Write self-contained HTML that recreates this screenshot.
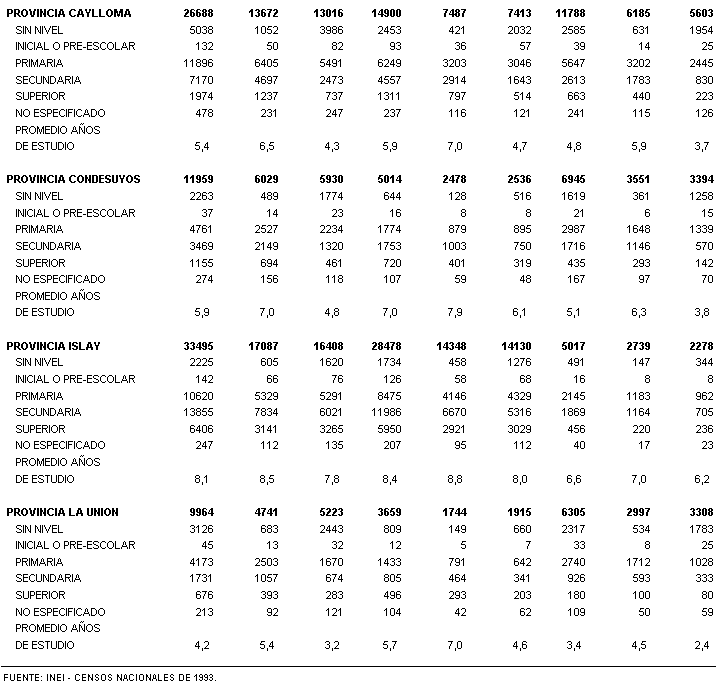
<!DOCTYPE html>
<html lang="es"><head><meta charset="utf-8"><title>Nivel educativo por provincia</title><style>
html,body{margin:0;padding:0;background:#fff;}
body{width:717px;height:684px;position:relative;overflow:hidden;font-family:"Liberation Sans",sans-serif;font-size:11px;color:#000;}
#x{position:absolute;left:0;top:0;width:717px;height:684px;color:transparent;}
#x div{position:absolute;white-space:nowrap;line-height:13px;}
#x .h{font-weight:bold;}
#x .ft{font-size:9px;letter-spacing:0.21px;}
#d{position:absolute;left:0;top:0;width:717px;height:684px;pointer-events:none;}
#d u{position:absolute;display:block;width:1px;height:1px;text-decoration:none;}
#d .n0{box-shadow:2px 1px #000,3px 1px #000,4px 1px #000,1px 2px #000,5px 2px #000,1px 3px #000,5px 3px #000,1px 4px #000,5px 4px #000,1px 5px #000,5px 5px #000,1px 6px #000,5px 6px #000,1px 7px #000,5px 7px #000,2px 8px #000,3px 8px #000,4px 8px #000;}
#d .n1{box-shadow:3px 1px #000,2px 2px #000,3px 2px #000,1px 3px #000,3px 3px #000,3px 4px #000,3px 5px #000,3px 6px #000,3px 7px #000,3px 8px #000;}
#d .n2{box-shadow:2px 1px #000,3px 1px #000,4px 1px #000,1px 2px #000,5px 2px #000,5px 3px #000,5px 4px #000,4px 5px #000,3px 6px #000,2px 7px #000,1px 8px #000,2px 8px #000,3px 8px #000,4px 8px #000,5px 8px #000;}
#d .n3{box-shadow:2px 1px #000,3px 1px #000,4px 1px #000,1px 2px #000,5px 2px #000,5px 3px #000,3px 4px #000,4px 4px #000,5px 5px #000,5px 6px #000,1px 7px #000,5px 7px #000,2px 8px #000,3px 8px #000,4px 8px #000;}
#d .n4{box-shadow:4px 1px #000,3px 2px #000,4px 2px #000,2px 3px #000,4px 3px #000,2px 4px #000,4px 4px #000,1px 5px #000,4px 5px #000,1px 6px #000,2px 6px #000,3px 6px #000,4px 6px #000,5px 6px #000,4px 7px #000,4px 8px #000;}
#d .n5{box-shadow:2px 1px #000,3px 1px #000,4px 1px #000,5px 1px #000,2px 2px #000,1px 3px #000,1px 4px #000,2px 4px #000,3px 4px #000,4px 4px #000,5px 5px #000,5px 6px #000,1px 7px #000,5px 7px #000,2px 8px #000,3px 8px #000,4px 8px #000;}
#d .n6{box-shadow:2px 1px #000,3px 1px #000,4px 1px #000,1px 2px #000,5px 2px #000,1px 3px #000,1px 4px #000,2px 4px #000,3px 4px #000,4px 4px #000,1px 5px #000,5px 5px #000,1px 6px #000,5px 6px #000,1px 7px #000,5px 7px #000,2px 8px #000,3px 8px #000,4px 8px #000;}
#d .n7{box-shadow:1px 1px #000,2px 1px #000,3px 1px #000,4px 1px #000,5px 1px #000,4px 2px #000,4px 3px #000,3px 4px #000,3px 5px #000,2px 6px #000,2px 7px #000,2px 8px #000;}
#d .n8{box-shadow:2px 1px #000,3px 1px #000,4px 1px #000,1px 2px #000,5px 2px #000,1px 3px #000,5px 3px #000,2px 4px #000,3px 4px #000,4px 4px #000,1px 5px #000,5px 5px #000,1px 6px #000,5px 6px #000,1px 7px #000,5px 7px #000,2px 8px #000,3px 8px #000,4px 8px #000;}
#d .n9{box-shadow:2px 1px #000,3px 1px #000,4px 1px #000,1px 2px #000,5px 2px #000,1px 3px #000,5px 3px #000,1px 4px #000,5px 4px #000,2px 5px #000,3px 5px #000,4px 5px #000,5px 5px #000,5px 6px #000,1px 7px #000,5px 7px #000,2px 8px #000,3px 8px #000,4px 8px #000;}
#d .k{box-shadow:2px 8px #000,2px 9px #000,2px 10px #000;}
#d .m0{box-shadow:2px 1px #000,3px 1px #000,4px 1px #000,1px 2px #000,2px 2px #000,4px 2px #000,5px 2px #000,1px 3px #000,2px 3px #000,4px 3px #000,5px 3px #000,1px 4px #000,2px 4px #000,4px 4px #000,5px 4px #000,1px 5px #000,2px 5px #000,4px 5px #000,5px 5px #000,1px 6px #000,2px 6px #000,4px 6px #000,5px 6px #000,1px 7px #000,2px 7px #000,4px 7px #000,5px 7px #000,2px 8px #000,3px 8px #000,4px 8px #000;}
#d .m1{box-shadow:3px 1px #000,4px 1px #000,2px 2px #000,3px 2px #000,4px 2px #000,1px 3px #000,2px 3px #000,3px 3px #000,4px 3px #000,1px 4px #000,3px 4px #000,4px 4px #000,3px 5px #000,4px 5px #000,3px 6px #000,4px 6px #000,3px 7px #000,4px 7px #000,3px 8px #000,4px 8px #000;}
#d .m2{box-shadow:2px 1px #000,3px 1px #000,4px 1px #000,1px 2px #000,2px 2px #000,4px 2px #000,5px 2px #000,4px 3px #000,5px 3px #000,3px 4px #000,4px 4px #000,5px 4px #000,2px 5px #000,3px 5px #000,4px 5px #000,2px 6px #000,3px 6px #000,1px 7px #000,2px 7px #000,1px 8px #000,2px 8px #000,3px 8px #000,4px 8px #000,5px 8px #000;}
#d .m3{box-shadow:2px 1px #000,3px 1px #000,4px 1px #000,1px 2px #000,2px 2px #000,4px 2px #000,5px 2px #000,4px 3px #000,5px 3px #000,3px 4px #000,4px 4px #000,4px 5px #000,5px 5px #000,4px 6px #000,5px 6px #000,1px 7px #000,2px 7px #000,4px 7px #000,5px 7px #000,2px 8px #000,3px 8px #000,4px 8px #000;}
#d .m4{box-shadow:4px 1px #000,5px 1px #000,3px 2px #000,4px 2px #000,5px 2px #000,2px 3px #000,4px 3px #000,5px 3px #000,2px 4px #000,4px 4px #000,5px 4px #000,1px 5px #000,4px 5px #000,5px 5px #000,1px 6px #000,2px 6px #000,3px 6px #000,4px 6px #000,5px 6px #000,6px 6px #000,4px 7px #000,5px 7px #000,4px 8px #000,5px 8px #000;}
#d .m5{box-shadow:2px 1px #000,3px 1px #000,4px 1px #000,5px 1px #000,2px 2px #000,3px 2px #000,1px 3px #000,2px 3px #000,1px 4px #000,2px 4px #000,3px 4px #000,4px 4px #000,1px 5px #000,4px 5px #000,5px 5px #000,4px 6px #000,5px 6px #000,1px 7px #000,2px 7px #000,4px 7px #000,5px 7px #000,2px 8px #000,3px 8px #000,4px 8px #000;}
#d .m6{box-shadow:2px 1px #000,3px 1px #000,4px 1px #000,1px 2px #000,2px 2px #000,5px 2px #000,1px 3px #000,2px 3px #000,1px 4px #000,2px 4px #000,3px 4px #000,4px 4px #000,1px 5px #000,2px 5px #000,4px 5px #000,5px 5px #000,1px 6px #000,2px 6px #000,4px 6px #000,5px 6px #000,1px 7px #000,2px 7px #000,4px 7px #000,5px 7px #000,2px 8px #000,3px 8px #000,4px 8px #000;}
#d .m7{box-shadow:1px 1px #000,2px 1px #000,3px 1px #000,4px 1px #000,5px 1px #000,4px 2px #000,5px 2px #000,3px 3px #000,4px 3px #000,3px 4px #000,4px 4px #000,2px 5px #000,3px 5px #000,2px 6px #000,3px 6px #000,2px 7px #000,3px 7px #000,2px 8px #000,3px 8px #000;}
#d .m8{box-shadow:2px 1px #000,3px 1px #000,4px 1px #000,1px 2px #000,2px 2px #000,4px 2px #000,5px 2px #000,1px 3px #000,2px 3px #000,4px 3px #000,5px 3px #000,2px 4px #000,3px 4px #000,4px 4px #000,1px 5px #000,2px 5px #000,4px 5px #000,5px 5px #000,1px 6px #000,2px 6px #000,4px 6px #000,5px 6px #000,1px 7px #000,2px 7px #000,4px 7px #000,5px 7px #000,2px 8px #000,3px 8px #000,4px 8px #000;}
#d .m9{box-shadow:2px 1px #000,3px 1px #000,4px 1px #000,1px 2px #000,2px 2px #000,4px 2px #000,5px 2px #000,1px 3px #000,2px 3px #000,4px 3px #000,5px 3px #000,1px 4px #000,2px 4px #000,4px 4px #000,5px 4px #000,2px 5px #000,3px 5px #000,4px 5px #000,5px 5px #000,4px 6px #000,5px 6px #000,1px 7px #000,2px 7px #000,4px 7px #000,5px 7px #000,2px 8px #000,3px 8px #000,4px 8px #000;}
#d .q0{box-shadow:2px 1px #000,3px 1px #000,4px 1px #000,5px 1px #000,1px 2px #000,6px 2px #000,1px 3px #000,2px 4px #000,3px 4px #000,4px 5px #000,5px 5px #000,6px 6px #000,1px 7px #000,6px 7px #000,2px 8px #000,3px 8px #000,4px 8px #000,5px 8px #000;}
#d .q1{box-shadow:1px 1px #000,1px 2px #000,1px 3px #000,1px 4px #000,1px 5px #000,1px 6px #000,1px 7px #000,1px 8px #000;}
#d .q2{box-shadow:1px 1px #000,6px 1px #000,1px 2px #000,2px 2px #000,6px 2px #000,1px 3px #000,3px 3px #000,6px 3px #000,1px 4px #000,3px 4px #000,6px 4px #000,1px 5px #000,4px 5px #000,6px 5px #000,1px 6px #000,4px 6px #000,6px 6px #000,1px 7px #000,5px 7px #000,6px 7px #000,1px 8px #000,6px 8px #000;}
#d .q3{box-shadow:1px 1px #000,7px 1px #000,1px 2px #000,7px 2px #000,2px 3px #000,6px 3px #000,2px 4px #000,6px 4px #000,3px 5px #000,5px 5px #000,3px 6px #000,5px 6px #000,4px 7px #000,4px 8px #000;}
#d .q4{box-shadow:1px 1px #000,2px 1px #000,3px 1px #000,4px 1px #000,5px 1px #000,1px 2px #000,1px 3px #000,1px 4px #000,2px 4px #000,3px 4px #000,4px 4px #000,5px 4px #000,1px 5px #000,1px 6px #000,1px 7px #000,1px 8px #000,2px 8px #000,3px 8px #000,4px 8px #000,5px 8px #000;}
#d .q5{box-shadow:1px 1px #000,1px 2px #000,1px 3px #000,1px 4px #000,1px 5px #000,1px 6px #000,1px 7px #000,1px 8px #000,2px 8px #000,3px 8px #000,4px 8px #000,5px 8px #000;}
#d .q6{box-shadow:3px 1px #000,4px 1px #000,5px 1px #000,2px 2px #000,6px 2px #000,1px 3px #000,1px 4px #000,1px 5px #000,1px 6px #000,2px 7px #000,6px 7px #000,3px 8px #000,4px 8px #000,5px 8px #000;}
#d .q7{box-shadow:4px 1px #000,3px 2px #000,5px 2px #000,3px 3px #000,5px 3px #000,3px 4px #000,5px 4px #000,2px 5px #000,6px 5px #000,2px 6px #000,3px 6px #000,4px 6px #000,5px 6px #000,6px 6px #000,1px 7px #000,7px 7px #000,1px 8px #000,7px 8px #000;}
#d .q8{box-shadow:3px 1px #000,4px 1px #000,5px 1px #000,2px 2px #000,6px 2px #000,1px 3px #000,7px 3px #000,1px 4px #000,7px 4px #000,1px 5px #000,7px 5px #000,1px 6px #000,7px 6px #000,2px 7px #000,6px 7px #000,3px 8px #000,4px 8px #000,5px 8px #000;}
#d .q9{box-shadow:1px 1px #000,2px 1px #000,3px 1px #000,4px 1px #000,1px 2px #000,5px 2px #000,1px 3px #000,5px 3px #000,1px 4px #000,5px 4px #000,1px 5px #000,2px 5px #000,3px 5px #000,4px 5px #000,1px 6px #000,1px 7px #000,1px 8px #000;}
#d .q10{box-shadow:1px 1px #000,2px 1px #000,3px 1px #000,4px 1px #000,5px 1px #000,1px 2px #000,6px 2px #000,1px 3px #000,6px 3px #000,1px 4px #000,2px 4px #000,3px 4px #000,4px 4px #000,5px 4px #000,1px 5px #000,4px 5px #000,1px 6px #000,5px 6px #000,1px 7px #000,5px 7px #000,1px 8px #000,6px 8px #000;}
#d .q11{box-shadow:1px 6px #000,2px 6px #000,3px 6px #000;}
#d .q12{box-shadow:1px 1px #000,7px 1px #000,1px 2px #000,2px 2px #000,6px 2px #000,7px 2px #000,1px 3px #000,2px 3px #000,6px 3px #000,7px 3px #000,1px 4px #000,3px 4px #000,5px 4px #000,7px 4px #000,1px 5px #000,3px 5px #000,5px 5px #000,7px 5px #000,1px 6px #000,3px 6px #000,5px 6px #000,7px 6px #000,1px 7px #000,4px 7px #000,7px 7px #000,1px 8px #000,4px 8px #000,7px 8px #000;}
#d .q13{box-shadow:1px 1px #000,2px 1px #000,3px 1px #000,4px 1px #000,1px 2px #000,5px 2px #000,1px 3px #000,6px 3px #000,1px 4px #000,6px 4px #000,1px 5px #000,6px 5px #000,1px 6px #000,6px 6px #000,1px 7px #000,5px 7px #000,1px 8px #000,2px 8px #000,3px 8px #000,4px 8px #000;}
#d .q14{box-shadow:1px 1px #000,2px 1px #000,3px 1px #000,4px 1px #000,5px 1px #000,3px 2px #000,3px 3px #000,3px 4px #000,3px 5px #000,3px 6px #000,3px 7px #000,3px 8px #000;}
#d .q15{box-shadow:1px 1px #000,6px 1px #000,1px 2px #000,6px 2px #000,1px 3px #000,6px 3px #000,1px 4px #000,6px 4px #000,1px 5px #000,6px 5px #000,1px 6px #000,6px 6px #000,1px 7px #000,6px 7px #000,2px 8px #000,3px 8px #000,4px 8px #000,5px 8px #000;}
#d .q16{box-shadow:1px 1px #000,2px 1px #000,3px 1px #000,4px 1px #000,5px 1px #000,1px 2px #000,1px 3px #000,1px 4px #000,2px 4px #000,3px 4px #000,4px 4px #000,1px 5px #000,1px 6px #000,1px 7px #000,1px 8px #000;}
#d .q17{box-shadow:3px 1px #000,5px 1px #000,2px 2px #000,4px 2px #000,1px 4px #000,6px 4px #000,1px 5px #000,2px 5px #000,6px 5px #000,1px 6px #000,3px 6px #000,6px 6px #000,1px 7px #000,3px 7px #000,6px 7px #000,1px 8px #000,4px 8px #000,6px 8px #000,1px 9px #000,4px 9px #000,6px 9px #000,1px 10px #000,5px 10px #000,6px 10px #000,1px 11px #000,6px 11px #000;}
#d .f0{box-shadow:1px 1px #000,2px 1px #000,3px 1px #000,4px 1px #000,1px 2px #000,1px 3px #000,1px 4px #000,2px 4px #000,3px 4px #000,4px 4px #000,1px 5px #000,1px 6px #000,1px 7px #000;}
#d .f1{box-shadow:1px 1px #000,5px 1px #000,1px 2px #000,5px 2px #000,1px 3px #000,5px 3px #000,1px 4px #000,5px 4px #000,1px 5px #000,5px 5px #000,1px 6px #000,5px 6px #000,2px 7px #000,3px 7px #000,4px 7px #000;}
#d .f2{box-shadow:1px 1px #000,2px 1px #000,3px 1px #000,4px 1px #000,1px 2px #000,1px 3px #000,1px 4px #000,2px 4px #000,3px 4px #000,4px 4px #000,1px 5px #000,1px 6px #000,1px 7px #000,2px 7px #000,3px 7px #000,4px 7px #000;}
#d .f3{box-shadow:1px 1px #000,5px 1px #000,1px 2px #000,2px 2px #000,5px 2px #000,1px 3px #000,2px 3px #000,5px 3px #000,1px 4px #000,3px 4px #000,5px 4px #000,1px 5px #000,4px 5px #000,5px 5px #000,1px 6px #000,4px 6px #000,5px 6px #000,1px 7px #000,5px 7px #000;}
#d .f4{box-shadow:1px 1px #000,2px 1px #000,3px 1px #000,4px 1px #000,5px 1px #000,3px 2px #000,3px 3px #000,3px 4px #000,3px 5px #000,3px 6px #000,3px 7px #000;}
#d .f5{box-shadow:1px 3px #000,1px 7px #000;}
#d .f6{box-shadow:1px 1px #000,1px 2px #000,1px 3px #000,1px 4px #000,1px 5px #000,1px 6px #000,1px 7px #000;}
#d .f7{box-shadow:1px 5px #000,2px 5px #000;}
#d .f8{box-shadow:2px 1px #000,3px 1px #000,4px 1px #000,1px 2px #000,5px 2px #000,1px 3px #000,1px 4px #000,1px 5px #000,1px 6px #000,5px 6px #000,2px 7px #000,3px 7px #000,4px 7px #000;}
#d .f9{box-shadow:2px 1px #000,3px 1px #000,1px 2px #000,4px 2px #000,1px 3px #000,2px 4px #000,3px 4px #000,4px 5px #000,1px 6px #000,4px 6px #000,2px 7px #000,3px 7px #000;}
#d .f10{box-shadow:2px 1px #000,3px 1px #000,4px 1px #000,1px 2px #000,5px 2px #000,1px 3px #000,5px 3px #000,1px 4px #000,5px 4px #000,1px 5px #000,5px 5px #000,1px 6px #000,5px 6px #000,2px 7px #000,3px 7px #000,4px 7px #000;}
#d .f11{box-shadow:3px 1px #000,2px 2px #000,4px 2px #000,2px 3px #000,4px 3px #000,2px 4px #000,4px 4px #000,2px 5px #000,3px 5px #000,4px 5px #000,1px 6px #000,5px 6px #000,1px 7px #000,5px 7px #000;}
#d .f12{box-shadow:1px 1px #000,1px 2px #000,1px 3px #000,1px 4px #000,1px 5px #000,1px 6px #000,1px 7px #000,2px 7px #000,3px 7px #000,4px 7px #000;}
#d .f13{box-shadow:1px 1px #000,2px 1px #000,3px 1px #000,4px 1px #000,1px 2px #000,5px 2px #000,1px 3px #000,5px 3px #000,1px 4px #000,5px 4px #000,1px 5px #000,5px 5px #000,1px 6px #000,5px 6px #000,1px 7px #000,2px 7px #000,3px 7px #000,4px 7px #000;}
#d .f14{box-shadow:3px 1px #000,2px 2px #000,3px 2px #000,1px 3px #000,3px 3px #000,3px 4px #000,3px 5px #000,3px 6px #000,3px 7px #000;}
#d .f15{box-shadow:2px 1px #000,3px 1px #000,1px 2px #000,4px 2px #000,1px 3px #000,4px 3px #000,2px 4px #000,3px 4px #000,4px 4px #000,4px 5px #000,1px 6px #000,4px 6px #000,2px 7px #000,3px 7px #000;}
#d .f16{box-shadow:2px 1px #000,3px 1px #000,1px 2px #000,4px 2px #000,4px 3px #000,2px 4px #000,3px 4px #000,4px 5px #000,1px 6px #000,4px 6px #000,2px 7px #000,3px 7px #000;}
#d .f17{box-shadow:1px 7px #000;}
#d .tP{box-shadow:1px 1px #000,2px 1px #000,3px 1px #000,4px 1px #000,5px 1px #000,1px 2px #000,2px 2px #000,5px 2px #000,6px 2px #000,1px 3px #000,2px 3px #000,5px 3px #000,6px 3px #000,1px 4px #000,2px 4px #000,5px 4px #000,6px 4px #000,1px 5px #000,2px 5px #000,3px 5px #000,4px 5px #000,5px 5px #000,1px 6px #000,2px 6px #000,1px 7px #000,2px 7px #000,1px 8px #000,2px 8px #000;}
#d .tR{box-shadow:1px 1px #000,2px 1px #000,3px 1px #000,4px 1px #000,5px 1px #000,1px 2px #000,2px 2px #000,5px 2px #000,6px 2px #000,1px 3px #000,2px 3px #000,5px 3px #000,6px 3px #000,1px 4px #000,2px 4px #000,5px 4px #000,6px 4px #000,1px 5px #000,2px 5px #000,3px 5px #000,4px 5px #000,5px 5px #000,1px 6px #000,2px 6px #000,4px 6px #000,5px 6px #000,1px 7px #000,2px 7px #000,5px 7px #000,6px 7px #000,1px 8px #000,2px 8px #000,6px 8px #000,7px 8px #000;}
#d .tO{box-shadow:3px 1px #000,4px 1px #000,5px 1px #000,2px 2px #000,3px 2px #000,5px 2px #000,6px 2px #000,1px 3px #000,2px 3px #000,6px 3px #000,7px 3px #000,1px 4px #000,2px 4px #000,6px 4px #000,7px 4px #000,1px 5px #000,2px 5px #000,6px 5px #000,7px 5px #000,1px 6px #000,2px 6px #000,6px 6px #000,7px 6px #000,2px 7px #000,3px 7px #000,5px 7px #000,6px 7px #000,3px 8px #000,4px 8px #000,5px 8px #000;}
#d .tV{box-shadow:1px 1px #000,2px 1px #000,6px 1px #000,7px 1px #000,1px 2px #000,2px 2px #000,6px 2px #000,7px 2px #000,2px 3px #000,3px 3px #000,5px 3px #000,6px 3px #000,2px 4px #000,3px 4px #000,5px 4px #000,6px 4px #000,2px 5px #000,3px 5px #000,5px 5px #000,6px 5px #000,2px 6px #000,3px 6px #000,5px 6px #000,6px 6px #000,3px 7px #000,4px 7px #000,5px 7px #000,3px 8px #000,4px 8px #000,5px 8px #000;}
#d .tI{box-shadow:1px 1px #000,2px 1px #000,1px 2px #000,2px 2px #000,1px 3px #000,2px 3px #000,1px 4px #000,2px 4px #000,1px 5px #000,2px 5px #000,1px 6px #000,2px 6px #000,1px 7px #000,2px 7px #000,1px 8px #000,2px 8px #000;}
#d .tN{box-shadow:1px 1px #000,2px 1px #000,5px 1px #000,6px 1px #000,1px 2px #000,2px 2px #000,5px 2px #000,6px 2px #000,1px 3px #000,2px 3px #000,3px 3px #000,5px 3px #000,6px 3px #000,1px 4px #000,2px 4px #000,3px 4px #000,5px 4px #000,6px 4px #000,1px 5px #000,2px 5px #000,4px 5px #000,5px 5px #000,6px 5px #000,1px 6px #000,2px 6px #000,4px 6px #000,5px 6px #000,6px 6px #000,1px 7px #000,2px 7px #000,5px 7px #000,6px 7px #000,1px 8px #000,2px 8px #000,5px 8px #000,6px 8px #000;}
#d .tC{box-shadow:3px 1px #000,4px 1px #000,5px 1px #000,6px 1px #000,2px 2px #000,3px 2px #000,6px 2px #000,7px 2px #000,1px 3px #000,2px 3px #000,1px 4px #000,2px 4px #000,1px 5px #000,2px 5px #000,1px 6px #000,2px 6px #000,2px 7px #000,3px 7px #000,6px 7px #000,7px 7px #000,3px 8px #000,4px 8px #000,5px 8px #000,6px 8px #000;}
#d .tA{box-shadow:3px 1px #000,4px 1px #000,5px 1px #000,3px 2px #000,4px 2px #000,5px 2px #000,2px 3px #000,3px 3px #000,5px 3px #000,6px 3px #000,2px 4px #000,3px 4px #000,5px 4px #000,6px 4px #000,2px 5px #000,3px 5px #000,5px 5px #000,6px 5px #000,1px 6px #000,2px 6px #000,3px 6px #000,4px 6px #000,5px 6px #000,6px 6px #000,7px 6px #000,1px 7px #000,2px 7px #000,6px 7px #000,7px 7px #000,1px 8px #000,2px 8px #000,6px 8px #000,7px 8px #000;}
#d .tY{box-shadow:1px 1px #000,2px 1px #000,5px 1px #000,6px 1px #000,1px 2px #000,2px 2px #000,5px 2px #000,6px 2px #000,2px 3px #000,5px 3px #000,2px 4px #000,3px 4px #000,4px 4px #000,5px 4px #000,3px 5px #000,4px 5px #000,3px 6px #000,4px 6px #000,3px 7px #000,4px 7px #000,3px 8px #000,4px 8px #000;}
#d .tL{box-shadow:1px 1px #000,2px 1px #000,1px 2px #000,2px 2px #000,1px 3px #000,2px 3px #000,1px 4px #000,2px 4px #000,1px 5px #000,2px 5px #000,1px 6px #000,2px 6px #000,1px 7px #000,2px 7px #000,1px 8px #000,2px 8px #000,3px 8px #000,4px 8px #000,5px 8px #000,6px 8px #000;}
#d .tM{box-shadow:1px 1px #000,2px 1px #000,3px 1px #000,7px 1px #000,8px 1px #000,9px 1px #000,1px 2px #000,2px 2px #000,3px 2px #000,7px 2px #000,8px 2px #000,9px 2px #000,1px 3px #000,2px 3px #000,3px 3px #000,4px 3px #000,6px 3px #000,7px 3px #000,8px 3px #000,9px 3px #000,1px 4px #000,2px 4px #000,3px 4px #000,4px 4px #000,6px 4px #000,7px 4px #000,8px 4px #000,9px 4px #000,1px 5px #000,2px 5px #000,4px 5px #000,6px 5px #000,8px 5px #000,9px 5px #000,1px 6px #000,2px 6px #000,4px 6px #000,5px 6px #000,6px 6px #000,8px 6px #000,9px 6px #000,1px 7px #000,2px 7px #000,4px 7px #000,5px 7px #000,6px 7px #000,8px 7px #000,9px 7px #000,1px 8px #000,2px 8px #000,5px 8px #000,8px 8px #000,9px 8px #000;}
#d .tD{box-shadow:1px 1px #000,2px 1px #000,3px 1px #000,4px 1px #000,5px 1px #000,1px 2px #000,2px 2px #000,5px 2px #000,6px 2px #000,1px 3px #000,2px 3px #000,5px 3px #000,6px 3px #000,1px 4px #000,2px 4px #000,5px 4px #000,6px 4px #000,1px 5px #000,2px 5px #000,5px 5px #000,6px 5px #000,1px 6px #000,2px 6px #000,5px 6px #000,6px 6px #000,1px 7px #000,2px 7px #000,5px 7px #000,6px 7px #000,1px 8px #000,2px 8px #000,3px 8px #000,4px 8px #000,5px 8px #000;}
#d .tE{box-shadow:1px 1px #000,2px 1px #000,3px 1px #000,4px 1px #000,5px 1px #000,1px 2px #000,2px 2px #000,1px 3px #000,2px 3px #000,1px 4px #000,2px 4px #000,3px 4px #000,4px 4px #000,5px 4px #000,1px 5px #000,2px 5px #000,1px 6px #000,2px 6px #000,1px 7px #000,2px 7px #000,1px 8px #000,2px 8px #000,3px 8px #000,4px 8px #000,5px 8px #000;}
#d .tS{box-shadow:2px 1px #000,3px 1px #000,4px 1px #000,5px 1px #000,1px 2px #000,2px 2px #000,5px 2px #000,6px 2px #000,1px 3px #000,2px 3px #000,1px 4px #000,2px 4px #000,3px 4px #000,4px 4px #000,3px 5px #000,4px 5px #000,5px 5px #000,6px 5px #000,5px 6px #000,6px 6px #000,1px 7px #000,2px 7px #000,5px 7px #000,6px 7px #000,2px 8px #000,3px 8px #000,4px 8px #000,5px 8px #000;}
#d .tU{box-shadow:1px 1px #000,2px 1px #000,5px 1px #000,6px 1px #000,1px 2px #000,2px 2px #000,5px 2px #000,6px 2px #000,1px 3px #000,2px 3px #000,5px 3px #000,6px 3px #000,1px 4px #000,2px 4px #000,5px 4px #000,6px 4px #000,1px 5px #000,2px 5px #000,5px 5px #000,6px 5px #000,1px 6px #000,2px 6px #000,5px 6px #000,6px 6px #000,1px 7px #000,2px 7px #000,5px 7px #000,6px 7px #000,2px 8px #000,3px 8px #000,4px 8px #000,5px 8px #000;}
.line{position:absolute;left:1px;width:715px;top:666px;height:1px;background:#000;}
</style></head><body>
<div id="x">
<div class="h" style="top:7px;left:6px">PROVINCIA CAYLLOMA</div>
<div class="h" style="top:7px;right:503px">26688</div>
<div class="h" style="top:7px;right:438px">13672</div>
<div class="h" style="top:7px;right:373px">13016</div>
<div class="h" style="top:7px;right:315px">14900</div>
<div class="h" style="top:7px;right:250px">7487</div>
<div class="h" style="top:7px;right:185px">7413</div>
<div class="h" style="top:7px;right:131px">11788</div>
<div class="h" style="top:7px;right:66px">6185</div>
<div class="h" style="top:7px;right:3px">5603</div>
<div style="top:24px;left:15px">SIN NIVEL</div>
<div style="top:24px;right:503px">5038</div>
<div style="top:24px;right:438px">1052</div>
<div style="top:24px;right:373px">3986</div>
<div style="top:24px;right:315px">2453</div>
<div style="top:24px;right:250px">421</div>
<div style="top:24px;right:185px">2032</div>
<div style="top:24px;right:131px">2585</div>
<div style="top:24px;right:66px">631</div>
<div style="top:24px;right:3px">1954</div>
<div style="top:40px;left:15px">INICIAL O PRE-ESCOLAR</div>
<div style="top:40px;right:503px">132</div>
<div style="top:40px;right:438px">50</div>
<div style="top:40px;right:373px">82</div>
<div style="top:40px;right:315px">93</div>
<div style="top:40px;right:250px">36</div>
<div style="top:40px;right:185px">57</div>
<div style="top:40px;right:131px">39</div>
<div style="top:40px;right:66px">14</div>
<div style="top:40px;right:3px">25</div>
<div style="top:57px;left:15px">PRIMARIA</div>
<div style="top:57px;right:503px">11896</div>
<div style="top:57px;right:438px">6405</div>
<div style="top:57px;right:373px">5491</div>
<div style="top:57px;right:315px">6249</div>
<div style="top:57px;right:250px">3203</div>
<div style="top:57px;right:185px">3046</div>
<div style="top:57px;right:131px">5647</div>
<div style="top:57px;right:66px">3202</div>
<div style="top:57px;right:3px">2445</div>
<div style="top:74px;left:15px">SECUNDARIA</div>
<div style="top:74px;right:503px">7170</div>
<div style="top:74px;right:438px">4697</div>
<div style="top:74px;right:373px">2473</div>
<div style="top:74px;right:315px">4557</div>
<div style="top:74px;right:250px">2914</div>
<div style="top:74px;right:185px">1643</div>
<div style="top:74px;right:131px">2613</div>
<div style="top:74px;right:66px">1783</div>
<div style="top:74px;right:3px">830</div>
<div style="top:90px;left:15px">SUPERIOR</div>
<div style="top:90px;right:503px">1974</div>
<div style="top:90px;right:438px">1237</div>
<div style="top:90px;right:373px">737</div>
<div style="top:90px;right:315px">1311</div>
<div style="top:90px;right:250px">797</div>
<div style="top:90px;right:185px">514</div>
<div style="top:90px;right:131px">663</div>
<div style="top:90px;right:66px">440</div>
<div style="top:90px;right:3px">223</div>
<div style="top:107px;left:15px">NO ESPECIFICADO</div>
<div style="top:107px;right:503px">478</div>
<div style="top:107px;right:438px">231</div>
<div style="top:107px;right:373px">247</div>
<div style="top:107px;right:315px">237</div>
<div style="top:107px;right:250px">116</div>
<div style="top:107px;right:185px">121</div>
<div style="top:107px;right:131px">241</div>
<div style="top:107px;right:66px">115</div>
<div style="top:107px;right:3px">126</div>
<div style="top:124px;left:15px">PROMEDIO AÑOS</div>
<div style="top:140px;left:15px">DE ESTUDIO</div>
<div style="top:140px;right:507px">5,4</div>
<div style="top:140px;right:442px">6,5</div>
<div style="top:140px;right:377px">4,3</div>
<div style="top:140px;right:319px">5,9</div>
<div style="top:140px;right:254px">7,0</div>
<div style="top:140px;right:189px">4,7</div>
<div style="top:140px;right:135px">4,8</div>
<div style="top:140px;right:70px">5,9</div>
<div style="top:140px;right:7px">3,7</div>
<div class="h" style="top:173px;left:6px">PROVINCIA CONDESUYOS</div>
<div class="h" style="top:173px;right:503px">11959</div>
<div class="h" style="top:173px;right:438px">6029</div>
<div class="h" style="top:173px;right:373px">5930</div>
<div class="h" style="top:173px;right:315px">5014</div>
<div class="h" style="top:173px;right:250px">2478</div>
<div class="h" style="top:173px;right:185px">2536</div>
<div class="h" style="top:173px;right:131px">6945</div>
<div class="h" style="top:173px;right:66px">3551</div>
<div class="h" style="top:173px;right:3px">3394</div>
<div style="top:190px;left:15px">SIN NIVEL</div>
<div style="top:190px;right:503px">2263</div>
<div style="top:190px;right:438px">489</div>
<div style="top:190px;right:373px">1774</div>
<div style="top:190px;right:315px">644</div>
<div style="top:190px;right:250px">128</div>
<div style="top:190px;right:185px">516</div>
<div style="top:190px;right:131px">1619</div>
<div style="top:190px;right:66px">361</div>
<div style="top:190px;right:3px">1258</div>
<div style="top:207px;left:15px">INICIAL O PRE-ESCOLAR</div>
<div style="top:207px;right:503px">37</div>
<div style="top:207px;right:438px">14</div>
<div style="top:207px;right:373px">23</div>
<div style="top:207px;right:315px">16</div>
<div style="top:207px;right:250px">8</div>
<div style="top:207px;right:185px">8</div>
<div style="top:207px;right:131px">21</div>
<div style="top:207px;right:66px">6</div>
<div style="top:207px;right:3px">15</div>
<div style="top:223px;left:15px">PRIMARIA</div>
<div style="top:223px;right:503px">4761</div>
<div style="top:223px;right:438px">2527</div>
<div style="top:223px;right:373px">2234</div>
<div style="top:223px;right:315px">1774</div>
<div style="top:223px;right:250px">879</div>
<div style="top:223px;right:185px">895</div>
<div style="top:223px;right:131px">2987</div>
<div style="top:223px;right:66px">1648</div>
<div style="top:223px;right:3px">1339</div>
<div style="top:240px;left:15px">SECUNDARIA</div>
<div style="top:240px;right:503px">3469</div>
<div style="top:240px;right:438px">2149</div>
<div style="top:240px;right:373px">1320</div>
<div style="top:240px;right:315px">1753</div>
<div style="top:240px;right:250px">1003</div>
<div style="top:240px;right:185px">750</div>
<div style="top:240px;right:131px">1716</div>
<div style="top:240px;right:66px">1146</div>
<div style="top:240px;right:3px">570</div>
<div style="top:257px;left:15px">SUPERIOR</div>
<div style="top:257px;right:503px">1155</div>
<div style="top:257px;right:438px">694</div>
<div style="top:257px;right:373px">461</div>
<div style="top:257px;right:315px">720</div>
<div style="top:257px;right:250px">401</div>
<div style="top:257px;right:185px">319</div>
<div style="top:257px;right:131px">435</div>
<div style="top:257px;right:66px">293</div>
<div style="top:257px;right:3px">142</div>
<div style="top:273px;left:15px">NO ESPECIFICADO</div>
<div style="top:273px;right:503px">274</div>
<div style="top:273px;right:438px">156</div>
<div style="top:273px;right:373px">118</div>
<div style="top:273px;right:315px">107</div>
<div style="top:273px;right:250px">59</div>
<div style="top:273px;right:185px">48</div>
<div style="top:273px;right:131px">167</div>
<div style="top:273px;right:66px">97</div>
<div style="top:273px;right:3px">70</div>
<div style="top:290px;left:15px">PROMEDIO AÑOS</div>
<div style="top:306px;left:15px">DE ESTUDIO</div>
<div style="top:306px;right:507px">5,9</div>
<div style="top:306px;right:442px">7,0</div>
<div style="top:306px;right:377px">4,8</div>
<div style="top:306px;right:319px">7,0</div>
<div style="top:306px;right:254px">7,9</div>
<div style="top:306px;right:189px">6,1</div>
<div style="top:306px;right:135px">5,1</div>
<div style="top:306px;right:70px">6,3</div>
<div style="top:306px;right:7px">3,8</div>
<div class="h" style="top:340px;left:6px">PROVINCIA ISLAY</div>
<div class="h" style="top:340px;right:503px">33495</div>
<div class="h" style="top:340px;right:438px">17087</div>
<div class="h" style="top:340px;right:373px">16408</div>
<div class="h" style="top:340px;right:315px">28478</div>
<div class="h" style="top:340px;right:250px">14348</div>
<div class="h" style="top:340px;right:185px">14130</div>
<div class="h" style="top:340px;right:131px">5017</div>
<div class="h" style="top:340px;right:66px">2739</div>
<div class="h" style="top:340px;right:3px">2278</div>
<div style="top:356px;left:15px">SIN NIVEL</div>
<div style="top:356px;right:503px">2225</div>
<div style="top:356px;right:438px">605</div>
<div style="top:356px;right:373px">1620</div>
<div style="top:356px;right:315px">1734</div>
<div style="top:356px;right:250px">458</div>
<div style="top:356px;right:185px">1276</div>
<div style="top:356px;right:131px">491</div>
<div style="top:356px;right:66px">147</div>
<div style="top:356px;right:3px">344</div>
<div style="top:373px;left:15px">INICIAL O PRE-ESCOLAR</div>
<div style="top:373px;right:503px">142</div>
<div style="top:373px;right:438px">66</div>
<div style="top:373px;right:373px">76</div>
<div style="top:373px;right:315px">126</div>
<div style="top:373px;right:250px">58</div>
<div style="top:373px;right:185px">68</div>
<div style="top:373px;right:131px">16</div>
<div style="top:373px;right:66px">8</div>
<div style="top:373px;right:3px">8</div>
<div style="top:390px;left:15px">PRIMARIA</div>
<div style="top:390px;right:503px">10620</div>
<div style="top:390px;right:438px">5329</div>
<div style="top:390px;right:373px">5291</div>
<div style="top:390px;right:315px">8475</div>
<div style="top:390px;right:250px">4146</div>
<div style="top:390px;right:185px">4329</div>
<div style="top:390px;right:131px">2145</div>
<div style="top:390px;right:66px">1183</div>
<div style="top:390px;right:3px">962</div>
<div style="top:406px;left:15px">SECUNDARIA</div>
<div style="top:406px;right:503px">13855</div>
<div style="top:406px;right:438px">7834</div>
<div style="top:406px;right:373px">6021</div>
<div style="top:406px;right:315px">11986</div>
<div style="top:406px;right:250px">6670</div>
<div style="top:406px;right:185px">5316</div>
<div style="top:406px;right:131px">1869</div>
<div style="top:406px;right:66px">1164</div>
<div style="top:406px;right:3px">705</div>
<div style="top:423px;left:15px">SUPERIOR</div>
<div style="top:423px;right:503px">6406</div>
<div style="top:423px;right:438px">3141</div>
<div style="top:423px;right:373px">3265</div>
<div style="top:423px;right:315px">5950</div>
<div style="top:423px;right:250px">2921</div>
<div style="top:423px;right:185px">3029</div>
<div style="top:423px;right:131px">456</div>
<div style="top:423px;right:66px">220</div>
<div style="top:423px;right:3px">236</div>
<div style="top:439px;left:15px">NO ESPECIFICADO</div>
<div style="top:439px;right:503px">247</div>
<div style="top:439px;right:438px">112</div>
<div style="top:439px;right:373px">135</div>
<div style="top:439px;right:315px">207</div>
<div style="top:439px;right:250px">95</div>
<div style="top:439px;right:185px">112</div>
<div style="top:439px;right:131px">40</div>
<div style="top:439px;right:66px">17</div>
<div style="top:439px;right:3px">23</div>
<div style="top:456px;left:15px">PROMEDIO AÑOS</div>
<div style="top:473px;left:15px">DE ESTUDIO</div>
<div style="top:473px;right:507px">8,1</div>
<div style="top:473px;right:442px">8,5</div>
<div style="top:473px;right:377px">7,8</div>
<div style="top:473px;right:319px">8,4</div>
<div style="top:473px;right:254px">8,8</div>
<div style="top:473px;right:189px">8,0</div>
<div style="top:473px;right:135px">6,6</div>
<div style="top:473px;right:70px">7,0</div>
<div style="top:473px;right:7px">6,2</div>
<div class="h" style="top:506px;left:6px">PROVINCIA LA UNION</div>
<div class="h" style="top:506px;right:503px">9964</div>
<div class="h" style="top:506px;right:438px">4741</div>
<div class="h" style="top:506px;right:373px">5223</div>
<div class="h" style="top:506px;right:315px">3659</div>
<div class="h" style="top:506px;right:250px">1744</div>
<div class="h" style="top:506px;right:185px">1915</div>
<div class="h" style="top:506px;right:131px">6305</div>
<div class="h" style="top:506px;right:66px">2997</div>
<div class="h" style="top:506px;right:3px">3308</div>
<div style="top:523px;left:15px">SIN NIVEL</div>
<div style="top:523px;right:503px">3126</div>
<div style="top:523px;right:438px">683</div>
<div style="top:523px;right:373px">2443</div>
<div style="top:523px;right:315px">809</div>
<div style="top:523px;right:250px">149</div>
<div style="top:523px;right:185px">660</div>
<div style="top:523px;right:131px">2317</div>
<div style="top:523px;right:66px">534</div>
<div style="top:523px;right:3px">1783</div>
<div style="top:539px;left:15px">INICIAL O PRE-ESCOLAR</div>
<div style="top:539px;right:503px">45</div>
<div style="top:539px;right:438px">13</div>
<div style="top:539px;right:373px">32</div>
<div style="top:539px;right:315px">12</div>
<div style="top:539px;right:250px">5</div>
<div style="top:539px;right:185px">7</div>
<div style="top:539px;right:131px">33</div>
<div style="top:539px;right:66px">8</div>
<div style="top:539px;right:3px">25</div>
<div style="top:556px;left:15px">PRIMARIA</div>
<div style="top:556px;right:503px">4173</div>
<div style="top:556px;right:438px">2503</div>
<div style="top:556px;right:373px">1670</div>
<div style="top:556px;right:315px">1433</div>
<div style="top:556px;right:250px">791</div>
<div style="top:556px;right:185px">642</div>
<div style="top:556px;right:131px">2740</div>
<div style="top:556px;right:66px">1712</div>
<div style="top:556px;right:3px">1028</div>
<div style="top:572px;left:15px">SECUNDARIA</div>
<div style="top:572px;right:503px">1731</div>
<div style="top:572px;right:438px">1057</div>
<div style="top:572px;right:373px">674</div>
<div style="top:572px;right:315px">805</div>
<div style="top:572px;right:250px">464</div>
<div style="top:572px;right:185px">341</div>
<div style="top:572px;right:131px">926</div>
<div style="top:572px;right:66px">593</div>
<div style="top:572px;right:3px">333</div>
<div style="top:589px;left:15px">SUPERIOR</div>
<div style="top:589px;right:503px">676</div>
<div style="top:589px;right:438px">393</div>
<div style="top:589px;right:373px">283</div>
<div style="top:589px;right:315px">496</div>
<div style="top:589px;right:250px">293</div>
<div style="top:589px;right:185px">203</div>
<div style="top:589px;right:131px">180</div>
<div style="top:589px;right:66px">100</div>
<div style="top:589px;right:3px">80</div>
<div style="top:606px;left:15px">NO ESPECIFICADO</div>
<div style="top:606px;right:503px">213</div>
<div style="top:606px;right:438px">92</div>
<div style="top:606px;right:373px">121</div>
<div style="top:606px;right:315px">104</div>
<div style="top:606px;right:250px">42</div>
<div style="top:606px;right:185px">62</div>
<div style="top:606px;right:131px">109</div>
<div style="top:606px;right:66px">50</div>
<div style="top:606px;right:3px">59</div>
<div style="top:622px;left:15px">PROMEDIO AÑOS</div>
<div style="top:639px;left:15px">DE ESTUDIO</div>
<div style="top:639px;right:507px">4,2</div>
<div style="top:639px;right:442px">5,4</div>
<div style="top:639px;right:377px">3,2</div>
<div style="top:639px;right:319px">5,7</div>
<div style="top:639px;right:254px">7,0</div>
<div style="top:639px;right:189px">4,6</div>
<div style="top:639px;right:135px">3,4</div>
<div style="top:639px;right:70px">4,5</div>
<div style="top:639px;right:7px">2,4</div>
<div class="ft" style="top:671px;left:3px">FUENTE: INEI - CENSOS NACIONALES DE 1993.</div>
</div>
<div id="d"><u class="tP" style="left:6px;top:8px"></u><u class="tR" style="left:13px;top:8px"></u><u class="tO" style="left:20px;top:8px"></u><u class="tV" style="left:28px;top:8px"></u><u class="tI" style="left:36px;top:8px"></u><u class="tN" style="left:39px;top:8px"></u><u class="tC" style="left:46px;top:8px"></u><u class="tI" style="left:54px;top:8px"></u><u class="tA" style="left:57px;top:8px"></u><u class="tC" style="left:68px;top:8px"></u><u class="tA" style="left:76px;top:8px"></u><u class="tY" style="left:84px;top:8px"></u><u class="tL" style="left:91px;top:8px"></u><u class="tL" style="left:98px;top:8px"></u><u class="tO" style="left:105px;top:8px"></u><u class="tM" style="left:113px;top:8px"></u><u class="tA" style="left:123px;top:8px"></u><u class="tP" style="left:6px;top:174px"></u><u class="tR" style="left:13px;top:174px"></u><u class="tO" style="left:20px;top:174px"></u><u class="tV" style="left:28px;top:174px"></u><u class="tI" style="left:36px;top:174px"></u><u class="tN" style="left:39px;top:174px"></u><u class="tC" style="left:46px;top:174px"></u><u class="tI" style="left:54px;top:174px"></u><u class="tA" style="left:57px;top:174px"></u><u class="tC" style="left:68px;top:174px"></u><u class="tO" style="left:76px;top:174px"></u><u class="tN" style="left:84px;top:174px"></u><u class="tD" style="left:91px;top:174px"></u><u class="tE" style="left:98px;top:174px"></u><u class="tS" style="left:104px;top:174px"></u><u class="tU" style="left:111px;top:174px"></u><u class="tY" style="left:118px;top:174px"></u><u class="tO" style="left:125px;top:174px"></u><u class="tS" style="left:133px;top:174px"></u><u class="tP" style="left:6px;top:341px"></u><u class="tR" style="left:13px;top:341px"></u><u class="tO" style="left:20px;top:341px"></u><u class="tV" style="left:28px;top:341px"></u><u class="tI" style="left:36px;top:341px"></u><u class="tN" style="left:39px;top:341px"></u><u class="tC" style="left:46px;top:341px"></u><u class="tI" style="left:54px;top:341px"></u><u class="tA" style="left:57px;top:341px"></u><u class="tI" style="left:68px;top:341px"></u><u class="tS" style="left:71px;top:341px"></u><u class="tL" style="left:78px;top:341px"></u><u class="tA" style="left:85px;top:341px"></u><u class="tY" style="left:93px;top:341px"></u><u class="tP" style="left:6px;top:507px"></u><u class="tR" style="left:13px;top:507px"></u><u class="tO" style="left:20px;top:507px"></u><u class="tV" style="left:28px;top:507px"></u><u class="tI" style="left:36px;top:507px"></u><u class="tN" style="left:39px;top:507px"></u><u class="tC" style="left:46px;top:507px"></u><u class="tI" style="left:54px;top:507px"></u><u class="tA" style="left:57px;top:507px"></u><u class="tL" style="left:68px;top:507px"></u><u class="tA" style="left:75px;top:507px"></u><u class="tU" style="left:86px;top:507px"></u><u class="tN" style="left:93px;top:507px"></u><u class="tI" style="left:100px;top:507px"></u><u class="tO" style="left:103px;top:507px"></u><u class="tN" style="left:111px;top:507px"></u><u class="q0" style="left:15px;top:25px"></u><u class="q1" style="left:22px;top:25px"></u><u class="q2" style="left:24px;top:25px"></u><u class="q2" style="left:34px;top:25px"></u><u class="q1" style="left:41px;top:25px"></u><u class="q3" style="left:43px;top:25px"></u><u class="q4" style="left:51px;top:25px"></u><u class="q5" style="left:57px;top:25px"></u><u class="q1" style="left:15px;top:41px"></u><u class="q2" style="left:17px;top:41px"></u><u class="q1" style="left:24px;top:41px"></u><u class="q6" style="left:26px;top:41px"></u><u class="q1" style="left:33px;top:41px"></u><u class="q7" style="left:35px;top:41px"></u><u class="q5" style="left:43px;top:41px"></u><u class="q8" style="left:52px;top:41px"></u><u class="q9" style="left:63px;top:41px"></u><u class="q10" style="left:69px;top:41px"></u><u class="q4" style="left:76px;top:41px"></u><u class="q11" style="left:82px;top:41px"></u><u class="q4" style="left:86px;top:41px"></u><u class="q0" style="left:92px;top:41px"></u><u class="q6" style="left:99px;top:41px"></u><u class="q8" style="left:106px;top:41px"></u><u class="q5" style="left:114px;top:41px"></u><u class="q7" style="left:120px;top:41px"></u><u class="q10" style="left:128px;top:41px"></u><u class="q9" style="left:15px;top:58px"></u><u class="q10" style="left:21px;top:58px"></u><u class="q1" style="left:28px;top:58px"></u><u class="q12" style="left:30px;top:58px"></u><u class="q7" style="left:38px;top:58px"></u><u class="q10" style="left:46px;top:58px"></u><u class="q1" style="left:53px;top:58px"></u><u class="q7" style="left:55px;top:58px"></u><u class="q0" style="left:15px;top:75px"></u><u class="q4" style="left:22px;top:75px"></u><u class="q6" style="left:28px;top:75px"></u><u class="q15" style="left:35px;top:75px"></u><u class="q2" style="left:42px;top:75px"></u><u class="q13" style="left:49px;top:75px"></u><u class="q7" style="left:56px;top:75px"></u><u class="q10" style="left:64px;top:75px"></u><u class="q1" style="left:71px;top:75px"></u><u class="q7" style="left:73px;top:75px"></u><u class="q0" style="left:15px;top:91px"></u><u class="q15" style="left:22px;top:91px"></u><u class="q9" style="left:29px;top:91px"></u><u class="q4" style="left:35px;top:91px"></u><u class="q10" style="left:41px;top:91px"></u><u class="q1" style="left:48px;top:91px"></u><u class="q8" style="left:50px;top:91px"></u><u class="q10" style="left:58px;top:91px"></u><u class="q2" style="left:15px;top:108px"></u><u class="q8" style="left:22px;top:108px"></u><u class="q4" style="left:33px;top:108px"></u><u class="q0" style="left:39px;top:108px"></u><u class="q9" style="left:46px;top:108px"></u><u class="q4" style="left:52px;top:108px"></u><u class="q6" style="left:58px;top:108px"></u><u class="q1" style="left:65px;top:108px"></u><u class="q16" style="left:67px;top:108px"></u><u class="q1" style="left:73px;top:108px"></u><u class="q6" style="left:75px;top:108px"></u><u class="q7" style="left:82px;top:108px"></u><u class="q13" style="left:90px;top:108px"></u><u class="q8" style="left:97px;top:108px"></u><u class="q9" style="left:15px;top:125px"></u><u class="q10" style="left:21px;top:125px"></u><u class="q8" style="left:28px;top:125px"></u><u class="q12" style="left:36px;top:125px"></u><u class="q4" style="left:44px;top:125px"></u><u class="q13" style="left:50px;top:125px"></u><u class="q1" style="left:57px;top:125px"></u><u class="q8" style="left:59px;top:125px"></u><u class="q7" style="left:70px;top:125px"></u><u class="q17" style="left:78px;top:122px"></u><u class="q8" style="left:85px;top:125px"></u><u class="q0" style="left:93px;top:125px"></u><u class="q13" style="left:15px;top:141px"></u><u class="q4" style="left:22px;top:141px"></u><u class="q4" style="left:31px;top:141px"></u><u class="q0" style="left:37px;top:141px"></u><u class="q14" style="left:44px;top:141px"></u><u class="q15" style="left:50px;top:141px"></u><u class="q13" style="left:57px;top:141px"></u><u class="q1" style="left:64px;top:141px"></u><u class="q8" style="left:66px;top:141px"></u><u class="q0" style="left:15px;top:191px"></u><u class="q1" style="left:22px;top:191px"></u><u class="q2" style="left:24px;top:191px"></u><u class="q2" style="left:34px;top:191px"></u><u class="q1" style="left:41px;top:191px"></u><u class="q3" style="left:43px;top:191px"></u><u class="q4" style="left:51px;top:191px"></u><u class="q5" style="left:57px;top:191px"></u><u class="q1" style="left:15px;top:208px"></u><u class="q2" style="left:17px;top:208px"></u><u class="q1" style="left:24px;top:208px"></u><u class="q6" style="left:26px;top:208px"></u><u class="q1" style="left:33px;top:208px"></u><u class="q7" style="left:35px;top:208px"></u><u class="q5" style="left:43px;top:208px"></u><u class="q8" style="left:52px;top:208px"></u><u class="q9" style="left:63px;top:208px"></u><u class="q10" style="left:69px;top:208px"></u><u class="q4" style="left:76px;top:208px"></u><u class="q11" style="left:82px;top:208px"></u><u class="q4" style="left:86px;top:208px"></u><u class="q0" style="left:92px;top:208px"></u><u class="q6" style="left:99px;top:208px"></u><u class="q8" style="left:106px;top:208px"></u><u class="q5" style="left:114px;top:208px"></u><u class="q7" style="left:120px;top:208px"></u><u class="q10" style="left:128px;top:208px"></u><u class="q9" style="left:15px;top:224px"></u><u class="q10" style="left:21px;top:224px"></u><u class="q1" style="left:28px;top:224px"></u><u class="q12" style="left:30px;top:224px"></u><u class="q7" style="left:38px;top:224px"></u><u class="q10" style="left:46px;top:224px"></u><u class="q1" style="left:53px;top:224px"></u><u class="q7" style="left:55px;top:224px"></u><u class="q0" style="left:15px;top:241px"></u><u class="q4" style="left:22px;top:241px"></u><u class="q6" style="left:28px;top:241px"></u><u class="q15" style="left:35px;top:241px"></u><u class="q2" style="left:42px;top:241px"></u><u class="q13" style="left:49px;top:241px"></u><u class="q7" style="left:56px;top:241px"></u><u class="q10" style="left:64px;top:241px"></u><u class="q1" style="left:71px;top:241px"></u><u class="q7" style="left:73px;top:241px"></u><u class="q0" style="left:15px;top:258px"></u><u class="q15" style="left:22px;top:258px"></u><u class="q9" style="left:29px;top:258px"></u><u class="q4" style="left:35px;top:258px"></u><u class="q10" style="left:41px;top:258px"></u><u class="q1" style="left:48px;top:258px"></u><u class="q8" style="left:50px;top:258px"></u><u class="q10" style="left:58px;top:258px"></u><u class="q2" style="left:15px;top:274px"></u><u class="q8" style="left:22px;top:274px"></u><u class="q4" style="left:33px;top:274px"></u><u class="q0" style="left:39px;top:274px"></u><u class="q9" style="left:46px;top:274px"></u><u class="q4" style="left:52px;top:274px"></u><u class="q6" style="left:58px;top:274px"></u><u class="q1" style="left:65px;top:274px"></u><u class="q16" style="left:67px;top:274px"></u><u class="q1" style="left:73px;top:274px"></u><u class="q6" style="left:75px;top:274px"></u><u class="q7" style="left:82px;top:274px"></u><u class="q13" style="left:90px;top:274px"></u><u class="q8" style="left:97px;top:274px"></u><u class="q9" style="left:15px;top:291px"></u><u class="q10" style="left:21px;top:291px"></u><u class="q8" style="left:28px;top:291px"></u><u class="q12" style="left:36px;top:291px"></u><u class="q4" style="left:44px;top:291px"></u><u class="q13" style="left:50px;top:291px"></u><u class="q1" style="left:57px;top:291px"></u><u class="q8" style="left:59px;top:291px"></u><u class="q7" style="left:70px;top:291px"></u><u class="q17" style="left:78px;top:288px"></u><u class="q8" style="left:85px;top:291px"></u><u class="q0" style="left:93px;top:291px"></u><u class="q13" style="left:15px;top:307px"></u><u class="q4" style="left:22px;top:307px"></u><u class="q4" style="left:31px;top:307px"></u><u class="q0" style="left:37px;top:307px"></u><u class="q14" style="left:44px;top:307px"></u><u class="q15" style="left:50px;top:307px"></u><u class="q13" style="left:57px;top:307px"></u><u class="q1" style="left:64px;top:307px"></u><u class="q8" style="left:66px;top:307px"></u><u class="q0" style="left:15px;top:357px"></u><u class="q1" style="left:22px;top:357px"></u><u class="q2" style="left:24px;top:357px"></u><u class="q2" style="left:34px;top:357px"></u><u class="q1" style="left:41px;top:357px"></u><u class="q3" style="left:43px;top:357px"></u><u class="q4" style="left:51px;top:357px"></u><u class="q5" style="left:57px;top:357px"></u><u class="q1" style="left:15px;top:374px"></u><u class="q2" style="left:17px;top:374px"></u><u class="q1" style="left:24px;top:374px"></u><u class="q6" style="left:26px;top:374px"></u><u class="q1" style="left:33px;top:374px"></u><u class="q7" style="left:35px;top:374px"></u><u class="q5" style="left:43px;top:374px"></u><u class="q8" style="left:52px;top:374px"></u><u class="q9" style="left:63px;top:374px"></u><u class="q10" style="left:69px;top:374px"></u><u class="q4" style="left:76px;top:374px"></u><u class="q11" style="left:82px;top:374px"></u><u class="q4" style="left:86px;top:374px"></u><u class="q0" style="left:92px;top:374px"></u><u class="q6" style="left:99px;top:374px"></u><u class="q8" style="left:106px;top:374px"></u><u class="q5" style="left:114px;top:374px"></u><u class="q7" style="left:120px;top:374px"></u><u class="q10" style="left:128px;top:374px"></u><u class="q9" style="left:15px;top:391px"></u><u class="q10" style="left:21px;top:391px"></u><u class="q1" style="left:28px;top:391px"></u><u class="q12" style="left:30px;top:391px"></u><u class="q7" style="left:38px;top:391px"></u><u class="q10" style="left:46px;top:391px"></u><u class="q1" style="left:53px;top:391px"></u><u class="q7" style="left:55px;top:391px"></u><u class="q0" style="left:15px;top:407px"></u><u class="q4" style="left:22px;top:407px"></u><u class="q6" style="left:28px;top:407px"></u><u class="q15" style="left:35px;top:407px"></u><u class="q2" style="left:42px;top:407px"></u><u class="q13" style="left:49px;top:407px"></u><u class="q7" style="left:56px;top:407px"></u><u class="q10" style="left:64px;top:407px"></u><u class="q1" style="left:71px;top:407px"></u><u class="q7" style="left:73px;top:407px"></u><u class="q0" style="left:15px;top:424px"></u><u class="q15" style="left:22px;top:424px"></u><u class="q9" style="left:29px;top:424px"></u><u class="q4" style="left:35px;top:424px"></u><u class="q10" style="left:41px;top:424px"></u><u class="q1" style="left:48px;top:424px"></u><u class="q8" style="left:50px;top:424px"></u><u class="q10" style="left:58px;top:424px"></u><u class="q2" style="left:15px;top:440px"></u><u class="q8" style="left:22px;top:440px"></u><u class="q4" style="left:33px;top:440px"></u><u class="q0" style="left:39px;top:440px"></u><u class="q9" style="left:46px;top:440px"></u><u class="q4" style="left:52px;top:440px"></u><u class="q6" style="left:58px;top:440px"></u><u class="q1" style="left:65px;top:440px"></u><u class="q16" style="left:67px;top:440px"></u><u class="q1" style="left:73px;top:440px"></u><u class="q6" style="left:75px;top:440px"></u><u class="q7" style="left:82px;top:440px"></u><u class="q13" style="left:90px;top:440px"></u><u class="q8" style="left:97px;top:440px"></u><u class="q9" style="left:15px;top:457px"></u><u class="q10" style="left:21px;top:457px"></u><u class="q8" style="left:28px;top:457px"></u><u class="q12" style="left:36px;top:457px"></u><u class="q4" style="left:44px;top:457px"></u><u class="q13" style="left:50px;top:457px"></u><u class="q1" style="left:57px;top:457px"></u><u class="q8" style="left:59px;top:457px"></u><u class="q7" style="left:70px;top:457px"></u><u class="q17" style="left:78px;top:454px"></u><u class="q8" style="left:85px;top:457px"></u><u class="q0" style="left:93px;top:457px"></u><u class="q13" style="left:15px;top:474px"></u><u class="q4" style="left:22px;top:474px"></u><u class="q4" style="left:31px;top:474px"></u><u class="q0" style="left:37px;top:474px"></u><u class="q14" style="left:44px;top:474px"></u><u class="q15" style="left:50px;top:474px"></u><u class="q13" style="left:57px;top:474px"></u><u class="q1" style="left:64px;top:474px"></u><u class="q8" style="left:66px;top:474px"></u><u class="q0" style="left:15px;top:524px"></u><u class="q1" style="left:22px;top:524px"></u><u class="q2" style="left:24px;top:524px"></u><u class="q2" style="left:34px;top:524px"></u><u class="q1" style="left:41px;top:524px"></u><u class="q3" style="left:43px;top:524px"></u><u class="q4" style="left:51px;top:524px"></u><u class="q5" style="left:57px;top:524px"></u><u class="q1" style="left:15px;top:540px"></u><u class="q2" style="left:17px;top:540px"></u><u class="q1" style="left:24px;top:540px"></u><u class="q6" style="left:26px;top:540px"></u><u class="q1" style="left:33px;top:540px"></u><u class="q7" style="left:35px;top:540px"></u><u class="q5" style="left:43px;top:540px"></u><u class="q8" style="left:52px;top:540px"></u><u class="q9" style="left:63px;top:540px"></u><u class="q10" style="left:69px;top:540px"></u><u class="q4" style="left:76px;top:540px"></u><u class="q11" style="left:82px;top:540px"></u><u class="q4" style="left:86px;top:540px"></u><u class="q0" style="left:92px;top:540px"></u><u class="q6" style="left:99px;top:540px"></u><u class="q8" style="left:106px;top:540px"></u><u class="q5" style="left:114px;top:540px"></u><u class="q7" style="left:120px;top:540px"></u><u class="q10" style="left:128px;top:540px"></u><u class="q9" style="left:15px;top:557px"></u><u class="q10" style="left:21px;top:557px"></u><u class="q1" style="left:28px;top:557px"></u><u class="q12" style="left:30px;top:557px"></u><u class="q7" style="left:38px;top:557px"></u><u class="q10" style="left:46px;top:557px"></u><u class="q1" style="left:53px;top:557px"></u><u class="q7" style="left:55px;top:557px"></u><u class="q0" style="left:15px;top:573px"></u><u class="q4" style="left:22px;top:573px"></u><u class="q6" style="left:28px;top:573px"></u><u class="q15" style="left:35px;top:573px"></u><u class="q2" style="left:42px;top:573px"></u><u class="q13" style="left:49px;top:573px"></u><u class="q7" style="left:56px;top:573px"></u><u class="q10" style="left:64px;top:573px"></u><u class="q1" style="left:71px;top:573px"></u><u class="q7" style="left:73px;top:573px"></u><u class="q0" style="left:15px;top:590px"></u><u class="q15" style="left:22px;top:590px"></u><u class="q9" style="left:29px;top:590px"></u><u class="q4" style="left:35px;top:590px"></u><u class="q10" style="left:41px;top:590px"></u><u class="q1" style="left:48px;top:590px"></u><u class="q8" style="left:50px;top:590px"></u><u class="q10" style="left:58px;top:590px"></u><u class="q2" style="left:15px;top:607px"></u><u class="q8" style="left:22px;top:607px"></u><u class="q4" style="left:33px;top:607px"></u><u class="q0" style="left:39px;top:607px"></u><u class="q9" style="left:46px;top:607px"></u><u class="q4" style="left:52px;top:607px"></u><u class="q6" style="left:58px;top:607px"></u><u class="q1" style="left:65px;top:607px"></u><u class="q16" style="left:67px;top:607px"></u><u class="q1" style="left:73px;top:607px"></u><u class="q6" style="left:75px;top:607px"></u><u class="q7" style="left:82px;top:607px"></u><u class="q13" style="left:90px;top:607px"></u><u class="q8" style="left:97px;top:607px"></u><u class="q9" style="left:15px;top:623px"></u><u class="q10" style="left:21px;top:623px"></u><u class="q8" style="left:28px;top:623px"></u><u class="q12" style="left:36px;top:623px"></u><u class="q4" style="left:44px;top:623px"></u><u class="q13" style="left:50px;top:623px"></u><u class="q1" style="left:57px;top:623px"></u><u class="q8" style="left:59px;top:623px"></u><u class="q7" style="left:70px;top:623px"></u><u class="q17" style="left:78px;top:620px"></u><u class="q8" style="left:85px;top:623px"></u><u class="q0" style="left:93px;top:623px"></u><u class="q13" style="left:15px;top:640px"></u><u class="q4" style="left:22px;top:640px"></u><u class="q4" style="left:31px;top:640px"></u><u class="q0" style="left:37px;top:640px"></u><u class="q14" style="left:44px;top:640px"></u><u class="q15" style="left:50px;top:640px"></u><u class="q13" style="left:57px;top:640px"></u><u class="q1" style="left:64px;top:640px"></u><u class="q8" style="left:66px;top:640px"></u><u class="m8" style="left:207px;top:8px"></u><u class="m8" style="left:201px;top:8px"></u><u class="m6" style="left:195px;top:8px"></u><u class="m6" style="left:189px;top:8px"></u><u class="m2" style="left:183px;top:8px"></u><u class="m2" style="left:272px;top:8px"></u><u class="m7" style="left:266px;top:8px"></u><u class="m6" style="left:260px;top:8px"></u><u class="m3" style="left:254px;top:8px"></u><u class="m1" style="left:248px;top:8px"></u><u class="m6" style="left:337px;top:8px"></u><u class="m1" style="left:331px;top:8px"></u><u class="m0" style="left:325px;top:8px"></u><u class="m3" style="left:319px;top:8px"></u><u class="m1" style="left:313px;top:8px"></u><u class="m0" style="left:395px;top:8px"></u><u class="m0" style="left:389px;top:8px"></u><u class="m9" style="left:383px;top:8px"></u><u class="m4" style="left:377px;top:8px"></u><u class="m1" style="left:371px;top:8px"></u><u class="m7" style="left:460px;top:8px"></u><u class="m8" style="left:454px;top:8px"></u><u class="m4" style="left:448px;top:8px"></u><u class="m7" style="left:442px;top:8px"></u><u class="m3" style="left:525px;top:8px"></u><u class="m1" style="left:519px;top:8px"></u><u class="m4" style="left:513px;top:8px"></u><u class="m7" style="left:507px;top:8px"></u><u class="m8" style="left:579px;top:8px"></u><u class="m8" style="left:573px;top:8px"></u><u class="m7" style="left:567px;top:8px"></u><u class="m1" style="left:561px;top:8px"></u><u class="m1" style="left:555px;top:8px"></u><u class="m5" style="left:644px;top:8px"></u><u class="m8" style="left:638px;top:8px"></u><u class="m1" style="left:632px;top:8px"></u><u class="m6" style="left:626px;top:8px"></u><u class="m3" style="left:707px;top:8px"></u><u class="m0" style="left:701px;top:8px"></u><u class="m6" style="left:695px;top:8px"></u><u class="m5" style="left:689px;top:8px"></u><u class="n8" style="left:207px;top:25px"></u><u class="n3" style="left:201px;top:25px"></u><u class="n0" style="left:195px;top:25px"></u><u class="n5" style="left:189px;top:25px"></u><u class="n2" style="left:272px;top:25px"></u><u class="n5" style="left:266px;top:25px"></u><u class="n0" style="left:260px;top:25px"></u><u class="n1" style="left:254px;top:25px"></u><u class="n6" style="left:337px;top:25px"></u><u class="n8" style="left:331px;top:25px"></u><u class="n9" style="left:325px;top:25px"></u><u class="n3" style="left:319px;top:25px"></u><u class="n3" style="left:395px;top:25px"></u><u class="n5" style="left:389px;top:25px"></u><u class="n4" style="left:383px;top:25px"></u><u class="n2" style="left:377px;top:25px"></u><u class="n1" style="left:460px;top:25px"></u><u class="n2" style="left:454px;top:25px"></u><u class="n4" style="left:448px;top:25px"></u><u class="n2" style="left:525px;top:25px"></u><u class="n3" style="left:519px;top:25px"></u><u class="n0" style="left:513px;top:25px"></u><u class="n2" style="left:507px;top:25px"></u><u class="n5" style="left:579px;top:25px"></u><u class="n8" style="left:573px;top:25px"></u><u class="n5" style="left:567px;top:25px"></u><u class="n2" style="left:561px;top:25px"></u><u class="n1" style="left:644px;top:25px"></u><u class="n3" style="left:638px;top:25px"></u><u class="n6" style="left:632px;top:25px"></u><u class="n4" style="left:707px;top:25px"></u><u class="n5" style="left:701px;top:25px"></u><u class="n9" style="left:695px;top:25px"></u><u class="n1" style="left:689px;top:25px"></u><u class="n2" style="left:207px;top:41px"></u><u class="n3" style="left:201px;top:41px"></u><u class="n1" style="left:195px;top:41px"></u><u class="n0" style="left:272px;top:41px"></u><u class="n5" style="left:266px;top:41px"></u><u class="n2" style="left:337px;top:41px"></u><u class="n8" style="left:331px;top:41px"></u><u class="n3" style="left:395px;top:41px"></u><u class="n9" style="left:389px;top:41px"></u><u class="n6" style="left:460px;top:41px"></u><u class="n3" style="left:454px;top:41px"></u><u class="n7" style="left:525px;top:41px"></u><u class="n5" style="left:519px;top:41px"></u><u class="n9" style="left:579px;top:41px"></u><u class="n3" style="left:573px;top:41px"></u><u class="n4" style="left:644px;top:41px"></u><u class="n1" style="left:638px;top:41px"></u><u class="n5" style="left:707px;top:41px"></u><u class="n2" style="left:701px;top:41px"></u><u class="n6" style="left:207px;top:58px"></u><u class="n9" style="left:201px;top:58px"></u><u class="n8" style="left:195px;top:58px"></u><u class="n1" style="left:189px;top:58px"></u><u class="n1" style="left:183px;top:58px"></u><u class="n5" style="left:272px;top:58px"></u><u class="n0" style="left:266px;top:58px"></u><u class="n4" style="left:260px;top:58px"></u><u class="n6" style="left:254px;top:58px"></u><u class="n1" style="left:337px;top:58px"></u><u class="n9" style="left:331px;top:58px"></u><u class="n4" style="left:325px;top:58px"></u><u class="n5" style="left:319px;top:58px"></u><u class="n9" style="left:395px;top:58px"></u><u class="n4" style="left:389px;top:58px"></u><u class="n2" style="left:383px;top:58px"></u><u class="n6" style="left:377px;top:58px"></u><u class="n3" style="left:460px;top:58px"></u><u class="n0" style="left:454px;top:58px"></u><u class="n2" style="left:448px;top:58px"></u><u class="n3" style="left:442px;top:58px"></u><u class="n6" style="left:525px;top:58px"></u><u class="n4" style="left:519px;top:58px"></u><u class="n0" style="left:513px;top:58px"></u><u class="n3" style="left:507px;top:58px"></u><u class="n7" style="left:579px;top:58px"></u><u class="n4" style="left:573px;top:58px"></u><u class="n6" style="left:567px;top:58px"></u><u class="n5" style="left:561px;top:58px"></u><u class="n2" style="left:644px;top:58px"></u><u class="n0" style="left:638px;top:58px"></u><u class="n2" style="left:632px;top:58px"></u><u class="n3" style="left:626px;top:58px"></u><u class="n5" style="left:707px;top:58px"></u><u class="n4" style="left:701px;top:58px"></u><u class="n4" style="left:695px;top:58px"></u><u class="n2" style="left:689px;top:58px"></u><u class="n0" style="left:207px;top:75px"></u><u class="n7" style="left:201px;top:75px"></u><u class="n1" style="left:195px;top:75px"></u><u class="n7" style="left:189px;top:75px"></u><u class="n7" style="left:272px;top:75px"></u><u class="n9" style="left:266px;top:75px"></u><u class="n6" style="left:260px;top:75px"></u><u class="n4" style="left:254px;top:75px"></u><u class="n3" style="left:337px;top:75px"></u><u class="n7" style="left:331px;top:75px"></u><u class="n4" style="left:325px;top:75px"></u><u class="n2" style="left:319px;top:75px"></u><u class="n7" style="left:395px;top:75px"></u><u class="n5" style="left:389px;top:75px"></u><u class="n5" style="left:383px;top:75px"></u><u class="n4" style="left:377px;top:75px"></u><u class="n4" style="left:460px;top:75px"></u><u class="n1" style="left:454px;top:75px"></u><u class="n9" style="left:448px;top:75px"></u><u class="n2" style="left:442px;top:75px"></u><u class="n3" style="left:525px;top:75px"></u><u class="n4" style="left:519px;top:75px"></u><u class="n6" style="left:513px;top:75px"></u><u class="n1" style="left:507px;top:75px"></u><u class="n3" style="left:579px;top:75px"></u><u class="n1" style="left:573px;top:75px"></u><u class="n6" style="left:567px;top:75px"></u><u class="n2" style="left:561px;top:75px"></u><u class="n3" style="left:644px;top:75px"></u><u class="n8" style="left:638px;top:75px"></u><u class="n7" style="left:632px;top:75px"></u><u class="n1" style="left:626px;top:75px"></u><u class="n0" style="left:707px;top:75px"></u><u class="n3" style="left:701px;top:75px"></u><u class="n8" style="left:695px;top:75px"></u><u class="n4" style="left:207px;top:91px"></u><u class="n7" style="left:201px;top:91px"></u><u class="n9" style="left:195px;top:91px"></u><u class="n1" style="left:189px;top:91px"></u><u class="n7" style="left:272px;top:91px"></u><u class="n3" style="left:266px;top:91px"></u><u class="n2" style="left:260px;top:91px"></u><u class="n1" style="left:254px;top:91px"></u><u class="n7" style="left:337px;top:91px"></u><u class="n3" style="left:331px;top:91px"></u><u class="n7" style="left:325px;top:91px"></u><u class="n1" style="left:395px;top:91px"></u><u class="n1" style="left:389px;top:91px"></u><u class="n3" style="left:383px;top:91px"></u><u class="n1" style="left:377px;top:91px"></u><u class="n7" style="left:460px;top:91px"></u><u class="n9" style="left:454px;top:91px"></u><u class="n7" style="left:448px;top:91px"></u><u class="n4" style="left:525px;top:91px"></u><u class="n1" style="left:519px;top:91px"></u><u class="n5" style="left:513px;top:91px"></u><u class="n3" style="left:579px;top:91px"></u><u class="n6" style="left:573px;top:91px"></u><u class="n6" style="left:567px;top:91px"></u><u class="n0" style="left:644px;top:91px"></u><u class="n4" style="left:638px;top:91px"></u><u class="n4" style="left:632px;top:91px"></u><u class="n3" style="left:707px;top:91px"></u><u class="n2" style="left:701px;top:91px"></u><u class="n2" style="left:695px;top:91px"></u><u class="n8" style="left:207px;top:108px"></u><u class="n7" style="left:201px;top:108px"></u><u class="n4" style="left:195px;top:108px"></u><u class="n1" style="left:272px;top:108px"></u><u class="n3" style="left:266px;top:108px"></u><u class="n2" style="left:260px;top:108px"></u><u class="n7" style="left:337px;top:108px"></u><u class="n4" style="left:331px;top:108px"></u><u class="n2" style="left:325px;top:108px"></u><u class="n7" style="left:395px;top:108px"></u><u class="n3" style="left:389px;top:108px"></u><u class="n2" style="left:383px;top:108px"></u><u class="n6" style="left:460px;top:108px"></u><u class="n1" style="left:454px;top:108px"></u><u class="n1" style="left:448px;top:108px"></u><u class="n1" style="left:525px;top:108px"></u><u class="n2" style="left:519px;top:108px"></u><u class="n1" style="left:513px;top:108px"></u><u class="n1" style="left:579px;top:108px"></u><u class="n4" style="left:573px;top:108px"></u><u class="n2" style="left:567px;top:108px"></u><u class="n5" style="left:644px;top:108px"></u><u class="n1" style="left:638px;top:108px"></u><u class="n1" style="left:632px;top:108px"></u><u class="n6" style="left:707px;top:108px"></u><u class="n2" style="left:701px;top:108px"></u><u class="n1" style="left:695px;top:108px"></u><u class="n4" style="left:203px;top:141px"></u><u class="k" style="left:200px;top:141px"></u><u class="n5" style="left:194px;top:141px"></u><u class="n5" style="left:268px;top:141px"></u><u class="k" style="left:265px;top:141px"></u><u class="n6" style="left:259px;top:141px"></u><u class="n3" style="left:333px;top:141px"></u><u class="k" style="left:330px;top:141px"></u><u class="n4" style="left:324px;top:141px"></u><u class="n9" style="left:391px;top:141px"></u><u class="k" style="left:388px;top:141px"></u><u class="n5" style="left:382px;top:141px"></u><u class="n0" style="left:456px;top:141px"></u><u class="k" style="left:453px;top:141px"></u><u class="n7" style="left:447px;top:141px"></u><u class="n7" style="left:521px;top:141px"></u><u class="k" style="left:518px;top:141px"></u><u class="n4" style="left:512px;top:141px"></u><u class="n8" style="left:575px;top:141px"></u><u class="k" style="left:572px;top:141px"></u><u class="n4" style="left:566px;top:141px"></u><u class="n9" style="left:640px;top:141px"></u><u class="k" style="left:637px;top:141px"></u><u class="n5" style="left:631px;top:141px"></u><u class="n7" style="left:703px;top:141px"></u><u class="k" style="left:700px;top:141px"></u><u class="n3" style="left:694px;top:141px"></u><u class="m9" style="left:207px;top:174px"></u><u class="m5" style="left:201px;top:174px"></u><u class="m9" style="left:195px;top:174px"></u><u class="m1" style="left:189px;top:174px"></u><u class="m1" style="left:183px;top:174px"></u><u class="m9" style="left:272px;top:174px"></u><u class="m2" style="left:266px;top:174px"></u><u class="m0" style="left:260px;top:174px"></u><u class="m6" style="left:254px;top:174px"></u><u class="m0" style="left:337px;top:174px"></u><u class="m3" style="left:331px;top:174px"></u><u class="m9" style="left:325px;top:174px"></u><u class="m5" style="left:319px;top:174px"></u><u class="m4" style="left:395px;top:174px"></u><u class="m1" style="left:389px;top:174px"></u><u class="m0" style="left:383px;top:174px"></u><u class="m5" style="left:377px;top:174px"></u><u class="m8" style="left:460px;top:174px"></u><u class="m7" style="left:454px;top:174px"></u><u class="m4" style="left:448px;top:174px"></u><u class="m2" style="left:442px;top:174px"></u><u class="m6" style="left:525px;top:174px"></u><u class="m3" style="left:519px;top:174px"></u><u class="m5" style="left:513px;top:174px"></u><u class="m2" style="left:507px;top:174px"></u><u class="m5" style="left:579px;top:174px"></u><u class="m4" style="left:573px;top:174px"></u><u class="m9" style="left:567px;top:174px"></u><u class="m6" style="left:561px;top:174px"></u><u class="m1" style="left:644px;top:174px"></u><u class="m5" style="left:638px;top:174px"></u><u class="m5" style="left:632px;top:174px"></u><u class="m3" style="left:626px;top:174px"></u><u class="m4" style="left:707px;top:174px"></u><u class="m9" style="left:701px;top:174px"></u><u class="m3" style="left:695px;top:174px"></u><u class="m3" style="left:689px;top:174px"></u><u class="n3" style="left:207px;top:191px"></u><u class="n6" style="left:201px;top:191px"></u><u class="n2" style="left:195px;top:191px"></u><u class="n2" style="left:189px;top:191px"></u><u class="n9" style="left:272px;top:191px"></u><u class="n8" style="left:266px;top:191px"></u><u class="n4" style="left:260px;top:191px"></u><u class="n4" style="left:337px;top:191px"></u><u class="n7" style="left:331px;top:191px"></u><u class="n7" style="left:325px;top:191px"></u><u class="n1" style="left:319px;top:191px"></u><u class="n4" style="left:395px;top:191px"></u><u class="n4" style="left:389px;top:191px"></u><u class="n6" style="left:383px;top:191px"></u><u class="n8" style="left:460px;top:191px"></u><u class="n2" style="left:454px;top:191px"></u><u class="n1" style="left:448px;top:191px"></u><u class="n6" style="left:525px;top:191px"></u><u class="n1" style="left:519px;top:191px"></u><u class="n5" style="left:513px;top:191px"></u><u class="n9" style="left:579px;top:191px"></u><u class="n1" style="left:573px;top:191px"></u><u class="n6" style="left:567px;top:191px"></u><u class="n1" style="left:561px;top:191px"></u><u class="n1" style="left:644px;top:191px"></u><u class="n6" style="left:638px;top:191px"></u><u class="n3" style="left:632px;top:191px"></u><u class="n8" style="left:707px;top:191px"></u><u class="n5" style="left:701px;top:191px"></u><u class="n2" style="left:695px;top:191px"></u><u class="n1" style="left:689px;top:191px"></u><u class="n7" style="left:207px;top:208px"></u><u class="n3" style="left:201px;top:208px"></u><u class="n4" style="left:272px;top:208px"></u><u class="n1" style="left:266px;top:208px"></u><u class="n3" style="left:337px;top:208px"></u><u class="n2" style="left:331px;top:208px"></u><u class="n6" style="left:395px;top:208px"></u><u class="n1" style="left:389px;top:208px"></u><u class="n8" style="left:460px;top:208px"></u><u class="n8" style="left:525px;top:208px"></u><u class="n1" style="left:579px;top:208px"></u><u class="n2" style="left:573px;top:208px"></u><u class="n6" style="left:644px;top:208px"></u><u class="n5" style="left:707px;top:208px"></u><u class="n1" style="left:701px;top:208px"></u><u class="n1" style="left:207px;top:224px"></u><u class="n6" style="left:201px;top:224px"></u><u class="n7" style="left:195px;top:224px"></u><u class="n4" style="left:189px;top:224px"></u><u class="n7" style="left:272px;top:224px"></u><u class="n2" style="left:266px;top:224px"></u><u class="n5" style="left:260px;top:224px"></u><u class="n2" style="left:254px;top:224px"></u><u class="n4" style="left:337px;top:224px"></u><u class="n3" style="left:331px;top:224px"></u><u class="n2" style="left:325px;top:224px"></u><u class="n2" style="left:319px;top:224px"></u><u class="n4" style="left:395px;top:224px"></u><u class="n7" style="left:389px;top:224px"></u><u class="n7" style="left:383px;top:224px"></u><u class="n1" style="left:377px;top:224px"></u><u class="n9" style="left:460px;top:224px"></u><u class="n7" style="left:454px;top:224px"></u><u class="n8" style="left:448px;top:224px"></u><u class="n5" style="left:525px;top:224px"></u><u class="n9" style="left:519px;top:224px"></u><u class="n8" style="left:513px;top:224px"></u><u class="n7" style="left:579px;top:224px"></u><u class="n8" style="left:573px;top:224px"></u><u class="n9" style="left:567px;top:224px"></u><u class="n2" style="left:561px;top:224px"></u><u class="n8" style="left:644px;top:224px"></u><u class="n4" style="left:638px;top:224px"></u><u class="n6" style="left:632px;top:224px"></u><u class="n1" style="left:626px;top:224px"></u><u class="n9" style="left:707px;top:224px"></u><u class="n3" style="left:701px;top:224px"></u><u class="n3" style="left:695px;top:224px"></u><u class="n1" style="left:689px;top:224px"></u><u class="n9" style="left:207px;top:241px"></u><u class="n6" style="left:201px;top:241px"></u><u class="n4" style="left:195px;top:241px"></u><u class="n3" style="left:189px;top:241px"></u><u class="n9" style="left:272px;top:241px"></u><u class="n4" style="left:266px;top:241px"></u><u class="n1" style="left:260px;top:241px"></u><u class="n2" style="left:254px;top:241px"></u><u class="n0" style="left:337px;top:241px"></u><u class="n2" style="left:331px;top:241px"></u><u class="n3" style="left:325px;top:241px"></u><u class="n1" style="left:319px;top:241px"></u><u class="n3" style="left:395px;top:241px"></u><u class="n5" style="left:389px;top:241px"></u><u class="n7" style="left:383px;top:241px"></u><u class="n1" style="left:377px;top:241px"></u><u class="n3" style="left:460px;top:241px"></u><u class="n0" style="left:454px;top:241px"></u><u class="n0" style="left:448px;top:241px"></u><u class="n1" style="left:442px;top:241px"></u><u class="n0" style="left:525px;top:241px"></u><u class="n5" style="left:519px;top:241px"></u><u class="n7" style="left:513px;top:241px"></u><u class="n6" style="left:579px;top:241px"></u><u class="n1" style="left:573px;top:241px"></u><u class="n7" style="left:567px;top:241px"></u><u class="n1" style="left:561px;top:241px"></u><u class="n6" style="left:644px;top:241px"></u><u class="n4" style="left:638px;top:241px"></u><u class="n1" style="left:632px;top:241px"></u><u class="n1" style="left:626px;top:241px"></u><u class="n0" style="left:707px;top:241px"></u><u class="n7" style="left:701px;top:241px"></u><u class="n5" style="left:695px;top:241px"></u><u class="n5" style="left:207px;top:258px"></u><u class="n5" style="left:201px;top:258px"></u><u class="n1" style="left:195px;top:258px"></u><u class="n1" style="left:189px;top:258px"></u><u class="n4" style="left:272px;top:258px"></u><u class="n9" style="left:266px;top:258px"></u><u class="n6" style="left:260px;top:258px"></u><u class="n1" style="left:337px;top:258px"></u><u class="n6" style="left:331px;top:258px"></u><u class="n4" style="left:325px;top:258px"></u><u class="n0" style="left:395px;top:258px"></u><u class="n2" style="left:389px;top:258px"></u><u class="n7" style="left:383px;top:258px"></u><u class="n1" style="left:460px;top:258px"></u><u class="n0" style="left:454px;top:258px"></u><u class="n4" style="left:448px;top:258px"></u><u class="n9" style="left:525px;top:258px"></u><u class="n1" style="left:519px;top:258px"></u><u class="n3" style="left:513px;top:258px"></u><u class="n5" style="left:579px;top:258px"></u><u class="n3" style="left:573px;top:258px"></u><u class="n4" style="left:567px;top:258px"></u><u class="n3" style="left:644px;top:258px"></u><u class="n9" style="left:638px;top:258px"></u><u class="n2" style="left:632px;top:258px"></u><u class="n2" style="left:707px;top:258px"></u><u class="n4" style="left:701px;top:258px"></u><u class="n1" style="left:695px;top:258px"></u><u class="n4" style="left:207px;top:274px"></u><u class="n7" style="left:201px;top:274px"></u><u class="n2" style="left:195px;top:274px"></u><u class="n6" style="left:272px;top:274px"></u><u class="n5" style="left:266px;top:274px"></u><u class="n1" style="left:260px;top:274px"></u><u class="n8" style="left:337px;top:274px"></u><u class="n1" style="left:331px;top:274px"></u><u class="n1" style="left:325px;top:274px"></u><u class="n7" style="left:395px;top:274px"></u><u class="n0" style="left:389px;top:274px"></u><u class="n1" style="left:383px;top:274px"></u><u class="n9" style="left:460px;top:274px"></u><u class="n5" style="left:454px;top:274px"></u><u class="n8" style="left:525px;top:274px"></u><u class="n4" style="left:519px;top:274px"></u><u class="n7" style="left:579px;top:274px"></u><u class="n6" style="left:573px;top:274px"></u><u class="n1" style="left:567px;top:274px"></u><u class="n7" style="left:644px;top:274px"></u><u class="n9" style="left:638px;top:274px"></u><u class="n0" style="left:707px;top:274px"></u><u class="n7" style="left:701px;top:274px"></u><u class="n9" style="left:203px;top:307px"></u><u class="k" style="left:200px;top:307px"></u><u class="n5" style="left:194px;top:307px"></u><u class="n0" style="left:268px;top:307px"></u><u class="k" style="left:265px;top:307px"></u><u class="n7" style="left:259px;top:307px"></u><u class="n8" style="left:333px;top:307px"></u><u class="k" style="left:330px;top:307px"></u><u class="n4" style="left:324px;top:307px"></u><u class="n0" style="left:391px;top:307px"></u><u class="k" style="left:388px;top:307px"></u><u class="n7" style="left:382px;top:307px"></u><u class="n9" style="left:456px;top:307px"></u><u class="k" style="left:453px;top:307px"></u><u class="n7" style="left:447px;top:307px"></u><u class="n1" style="left:521px;top:307px"></u><u class="k" style="left:518px;top:307px"></u><u class="n6" style="left:512px;top:307px"></u><u class="n1" style="left:575px;top:307px"></u><u class="k" style="left:572px;top:307px"></u><u class="n5" style="left:566px;top:307px"></u><u class="n3" style="left:640px;top:307px"></u><u class="k" style="left:637px;top:307px"></u><u class="n6" style="left:631px;top:307px"></u><u class="n8" style="left:703px;top:307px"></u><u class="k" style="left:700px;top:307px"></u><u class="n3" style="left:694px;top:307px"></u><u class="m5" style="left:207px;top:341px"></u><u class="m9" style="left:201px;top:341px"></u><u class="m4" style="left:195px;top:341px"></u><u class="m3" style="left:189px;top:341px"></u><u class="m3" style="left:183px;top:341px"></u><u class="m7" style="left:272px;top:341px"></u><u class="m8" style="left:266px;top:341px"></u><u class="m0" style="left:260px;top:341px"></u><u class="m7" style="left:254px;top:341px"></u><u class="m1" style="left:248px;top:341px"></u><u class="m8" style="left:337px;top:341px"></u><u class="m0" style="left:331px;top:341px"></u><u class="m4" style="left:325px;top:341px"></u><u class="m6" style="left:319px;top:341px"></u><u class="m1" style="left:313px;top:341px"></u><u class="m8" style="left:395px;top:341px"></u><u class="m7" style="left:389px;top:341px"></u><u class="m4" style="left:383px;top:341px"></u><u class="m8" style="left:377px;top:341px"></u><u class="m2" style="left:371px;top:341px"></u><u class="m8" style="left:460px;top:341px"></u><u class="m4" style="left:454px;top:341px"></u><u class="m3" style="left:448px;top:341px"></u><u class="m4" style="left:442px;top:341px"></u><u class="m1" style="left:436px;top:341px"></u><u class="m0" style="left:525px;top:341px"></u><u class="m3" style="left:519px;top:341px"></u><u class="m1" style="left:513px;top:341px"></u><u class="m4" style="left:507px;top:341px"></u><u class="m1" style="left:501px;top:341px"></u><u class="m7" style="left:579px;top:341px"></u><u class="m1" style="left:573px;top:341px"></u><u class="m0" style="left:567px;top:341px"></u><u class="m5" style="left:561px;top:341px"></u><u class="m9" style="left:644px;top:341px"></u><u class="m3" style="left:638px;top:341px"></u><u class="m7" style="left:632px;top:341px"></u><u class="m2" style="left:626px;top:341px"></u><u class="m8" style="left:707px;top:341px"></u><u class="m7" style="left:701px;top:341px"></u><u class="m2" style="left:695px;top:341px"></u><u class="m2" style="left:689px;top:341px"></u><u class="n5" style="left:207px;top:357px"></u><u class="n2" style="left:201px;top:357px"></u><u class="n2" style="left:195px;top:357px"></u><u class="n2" style="left:189px;top:357px"></u><u class="n5" style="left:272px;top:357px"></u><u class="n0" style="left:266px;top:357px"></u><u class="n6" style="left:260px;top:357px"></u><u class="n0" style="left:337px;top:357px"></u><u class="n2" style="left:331px;top:357px"></u><u class="n6" style="left:325px;top:357px"></u><u class="n1" style="left:319px;top:357px"></u><u class="n4" style="left:395px;top:357px"></u><u class="n3" style="left:389px;top:357px"></u><u class="n7" style="left:383px;top:357px"></u><u class="n1" style="left:377px;top:357px"></u><u class="n8" style="left:460px;top:357px"></u><u class="n5" style="left:454px;top:357px"></u><u class="n4" style="left:448px;top:357px"></u><u class="n6" style="left:525px;top:357px"></u><u class="n7" style="left:519px;top:357px"></u><u class="n2" style="left:513px;top:357px"></u><u class="n1" style="left:507px;top:357px"></u><u class="n1" style="left:579px;top:357px"></u><u class="n9" style="left:573px;top:357px"></u><u class="n4" style="left:567px;top:357px"></u><u class="n7" style="left:644px;top:357px"></u><u class="n4" style="left:638px;top:357px"></u><u class="n1" style="left:632px;top:357px"></u><u class="n4" style="left:707px;top:357px"></u><u class="n4" style="left:701px;top:357px"></u><u class="n3" style="left:695px;top:357px"></u><u class="n2" style="left:207px;top:374px"></u><u class="n4" style="left:201px;top:374px"></u><u class="n1" style="left:195px;top:374px"></u><u class="n6" style="left:272px;top:374px"></u><u class="n6" style="left:266px;top:374px"></u><u class="n6" style="left:337px;top:374px"></u><u class="n7" style="left:331px;top:374px"></u><u class="n6" style="left:395px;top:374px"></u><u class="n2" style="left:389px;top:374px"></u><u class="n1" style="left:383px;top:374px"></u><u class="n8" style="left:460px;top:374px"></u><u class="n5" style="left:454px;top:374px"></u><u class="n8" style="left:525px;top:374px"></u><u class="n6" style="left:519px;top:374px"></u><u class="n6" style="left:579px;top:374px"></u><u class="n1" style="left:573px;top:374px"></u><u class="n8" style="left:644px;top:374px"></u><u class="n8" style="left:707px;top:374px"></u><u class="n0" style="left:207px;top:391px"></u><u class="n2" style="left:201px;top:391px"></u><u class="n6" style="left:195px;top:391px"></u><u class="n0" style="left:189px;top:391px"></u><u class="n1" style="left:183px;top:391px"></u><u class="n9" style="left:272px;top:391px"></u><u class="n2" style="left:266px;top:391px"></u><u class="n3" style="left:260px;top:391px"></u><u class="n5" style="left:254px;top:391px"></u><u class="n1" style="left:337px;top:391px"></u><u class="n9" style="left:331px;top:391px"></u><u class="n2" style="left:325px;top:391px"></u><u class="n5" style="left:319px;top:391px"></u><u class="n5" style="left:395px;top:391px"></u><u class="n7" style="left:389px;top:391px"></u><u class="n4" style="left:383px;top:391px"></u><u class="n8" style="left:377px;top:391px"></u><u class="n6" style="left:460px;top:391px"></u><u class="n4" style="left:454px;top:391px"></u><u class="n1" style="left:448px;top:391px"></u><u class="n4" style="left:442px;top:391px"></u><u class="n9" style="left:525px;top:391px"></u><u class="n2" style="left:519px;top:391px"></u><u class="n3" style="left:513px;top:391px"></u><u class="n4" style="left:507px;top:391px"></u><u class="n5" style="left:579px;top:391px"></u><u class="n4" style="left:573px;top:391px"></u><u class="n1" style="left:567px;top:391px"></u><u class="n2" style="left:561px;top:391px"></u><u class="n3" style="left:644px;top:391px"></u><u class="n8" style="left:638px;top:391px"></u><u class="n1" style="left:632px;top:391px"></u><u class="n1" style="left:626px;top:391px"></u><u class="n2" style="left:707px;top:391px"></u><u class="n6" style="left:701px;top:391px"></u><u class="n9" style="left:695px;top:391px"></u><u class="n5" style="left:207px;top:407px"></u><u class="n5" style="left:201px;top:407px"></u><u class="n8" style="left:195px;top:407px"></u><u class="n3" style="left:189px;top:407px"></u><u class="n1" style="left:183px;top:407px"></u><u class="n4" style="left:272px;top:407px"></u><u class="n3" style="left:266px;top:407px"></u><u class="n8" style="left:260px;top:407px"></u><u class="n7" style="left:254px;top:407px"></u><u class="n1" style="left:337px;top:407px"></u><u class="n2" style="left:331px;top:407px"></u><u class="n0" style="left:325px;top:407px"></u><u class="n6" style="left:319px;top:407px"></u><u class="n6" style="left:395px;top:407px"></u><u class="n8" style="left:389px;top:407px"></u><u class="n9" style="left:383px;top:407px"></u><u class="n1" style="left:377px;top:407px"></u><u class="n1" style="left:371px;top:407px"></u><u class="n0" style="left:460px;top:407px"></u><u class="n7" style="left:454px;top:407px"></u><u class="n6" style="left:448px;top:407px"></u><u class="n6" style="left:442px;top:407px"></u><u class="n6" style="left:525px;top:407px"></u><u class="n1" style="left:519px;top:407px"></u><u class="n3" style="left:513px;top:407px"></u><u class="n5" style="left:507px;top:407px"></u><u class="n9" style="left:579px;top:407px"></u><u class="n6" style="left:573px;top:407px"></u><u class="n8" style="left:567px;top:407px"></u><u class="n1" style="left:561px;top:407px"></u><u class="n4" style="left:644px;top:407px"></u><u class="n6" style="left:638px;top:407px"></u><u class="n1" style="left:632px;top:407px"></u><u class="n1" style="left:626px;top:407px"></u><u class="n5" style="left:707px;top:407px"></u><u class="n0" style="left:701px;top:407px"></u><u class="n7" style="left:695px;top:407px"></u><u class="n6" style="left:207px;top:424px"></u><u class="n0" style="left:201px;top:424px"></u><u class="n4" style="left:195px;top:424px"></u><u class="n6" style="left:189px;top:424px"></u><u class="n1" style="left:272px;top:424px"></u><u class="n4" style="left:266px;top:424px"></u><u class="n1" style="left:260px;top:424px"></u><u class="n3" style="left:254px;top:424px"></u><u class="n5" style="left:337px;top:424px"></u><u class="n6" style="left:331px;top:424px"></u><u class="n2" style="left:325px;top:424px"></u><u class="n3" style="left:319px;top:424px"></u><u class="n0" style="left:395px;top:424px"></u><u class="n5" style="left:389px;top:424px"></u><u class="n9" style="left:383px;top:424px"></u><u class="n5" style="left:377px;top:424px"></u><u class="n1" style="left:460px;top:424px"></u><u class="n2" style="left:454px;top:424px"></u><u class="n9" style="left:448px;top:424px"></u><u class="n2" style="left:442px;top:424px"></u><u class="n9" style="left:525px;top:424px"></u><u class="n2" style="left:519px;top:424px"></u><u class="n0" style="left:513px;top:424px"></u><u class="n3" style="left:507px;top:424px"></u><u class="n6" style="left:579px;top:424px"></u><u class="n5" style="left:573px;top:424px"></u><u class="n4" style="left:567px;top:424px"></u><u class="n0" style="left:644px;top:424px"></u><u class="n2" style="left:638px;top:424px"></u><u class="n2" style="left:632px;top:424px"></u><u class="n6" style="left:707px;top:424px"></u><u class="n3" style="left:701px;top:424px"></u><u class="n2" style="left:695px;top:424px"></u><u class="n7" style="left:207px;top:440px"></u><u class="n4" style="left:201px;top:440px"></u><u class="n2" style="left:195px;top:440px"></u><u class="n2" style="left:272px;top:440px"></u><u class="n1" style="left:266px;top:440px"></u><u class="n1" style="left:260px;top:440px"></u><u class="n5" style="left:337px;top:440px"></u><u class="n3" style="left:331px;top:440px"></u><u class="n1" style="left:325px;top:440px"></u><u class="n7" style="left:395px;top:440px"></u><u class="n0" style="left:389px;top:440px"></u><u class="n2" style="left:383px;top:440px"></u><u class="n5" style="left:460px;top:440px"></u><u class="n9" style="left:454px;top:440px"></u><u class="n2" style="left:525px;top:440px"></u><u class="n1" style="left:519px;top:440px"></u><u class="n1" style="left:513px;top:440px"></u><u class="n0" style="left:579px;top:440px"></u><u class="n4" style="left:573px;top:440px"></u><u class="n7" style="left:644px;top:440px"></u><u class="n1" style="left:638px;top:440px"></u><u class="n3" style="left:707px;top:440px"></u><u class="n2" style="left:701px;top:440px"></u><u class="n1" style="left:203px;top:474px"></u><u class="k" style="left:200px;top:474px"></u><u class="n8" style="left:194px;top:474px"></u><u class="n5" style="left:268px;top:474px"></u><u class="k" style="left:265px;top:474px"></u><u class="n8" style="left:259px;top:474px"></u><u class="n8" style="left:333px;top:474px"></u><u class="k" style="left:330px;top:474px"></u><u class="n7" style="left:324px;top:474px"></u><u class="n4" style="left:391px;top:474px"></u><u class="k" style="left:388px;top:474px"></u><u class="n8" style="left:382px;top:474px"></u><u class="n8" style="left:456px;top:474px"></u><u class="k" style="left:453px;top:474px"></u><u class="n8" style="left:447px;top:474px"></u><u class="n0" style="left:521px;top:474px"></u><u class="k" style="left:518px;top:474px"></u><u class="n8" style="left:512px;top:474px"></u><u class="n6" style="left:575px;top:474px"></u><u class="k" style="left:572px;top:474px"></u><u class="n6" style="left:566px;top:474px"></u><u class="n0" style="left:640px;top:474px"></u><u class="k" style="left:637px;top:474px"></u><u class="n7" style="left:631px;top:474px"></u><u class="n2" style="left:703px;top:474px"></u><u class="k" style="left:700px;top:474px"></u><u class="n6" style="left:694px;top:474px"></u><u class="m4" style="left:207px;top:507px"></u><u class="m6" style="left:201px;top:507px"></u><u class="m9" style="left:195px;top:507px"></u><u class="m9" style="left:189px;top:507px"></u><u class="m1" style="left:272px;top:507px"></u><u class="m4" style="left:266px;top:507px"></u><u class="m7" style="left:260px;top:507px"></u><u class="m4" style="left:254px;top:507px"></u><u class="m3" style="left:337px;top:507px"></u><u class="m2" style="left:331px;top:507px"></u><u class="m2" style="left:325px;top:507px"></u><u class="m5" style="left:319px;top:507px"></u><u class="m9" style="left:395px;top:507px"></u><u class="m5" style="left:389px;top:507px"></u><u class="m6" style="left:383px;top:507px"></u><u class="m3" style="left:377px;top:507px"></u><u class="m4" style="left:460px;top:507px"></u><u class="m4" style="left:454px;top:507px"></u><u class="m7" style="left:448px;top:507px"></u><u class="m1" style="left:442px;top:507px"></u><u class="m5" style="left:525px;top:507px"></u><u class="m1" style="left:519px;top:507px"></u><u class="m9" style="left:513px;top:507px"></u><u class="m1" style="left:507px;top:507px"></u><u class="m5" style="left:579px;top:507px"></u><u class="m0" style="left:573px;top:507px"></u><u class="m3" style="left:567px;top:507px"></u><u class="m6" style="left:561px;top:507px"></u><u class="m7" style="left:644px;top:507px"></u><u class="m9" style="left:638px;top:507px"></u><u class="m9" style="left:632px;top:507px"></u><u class="m2" style="left:626px;top:507px"></u><u class="m8" style="left:707px;top:507px"></u><u class="m0" style="left:701px;top:507px"></u><u class="m3" style="left:695px;top:507px"></u><u class="m3" style="left:689px;top:507px"></u><u class="n6" style="left:207px;top:524px"></u><u class="n2" style="left:201px;top:524px"></u><u class="n1" style="left:195px;top:524px"></u><u class="n3" style="left:189px;top:524px"></u><u class="n3" style="left:272px;top:524px"></u><u class="n8" style="left:266px;top:524px"></u><u class="n6" style="left:260px;top:524px"></u><u class="n3" style="left:337px;top:524px"></u><u class="n4" style="left:331px;top:524px"></u><u class="n4" style="left:325px;top:524px"></u><u class="n2" style="left:319px;top:524px"></u><u class="n9" style="left:395px;top:524px"></u><u class="n0" style="left:389px;top:524px"></u><u class="n8" style="left:383px;top:524px"></u><u class="n9" style="left:460px;top:524px"></u><u class="n4" style="left:454px;top:524px"></u><u class="n1" style="left:448px;top:524px"></u><u class="n0" style="left:525px;top:524px"></u><u class="n6" style="left:519px;top:524px"></u><u class="n6" style="left:513px;top:524px"></u><u class="n7" style="left:579px;top:524px"></u><u class="n1" style="left:573px;top:524px"></u><u class="n3" style="left:567px;top:524px"></u><u class="n2" style="left:561px;top:524px"></u><u class="n4" style="left:644px;top:524px"></u><u class="n3" style="left:638px;top:524px"></u><u class="n5" style="left:632px;top:524px"></u><u class="n3" style="left:707px;top:524px"></u><u class="n8" style="left:701px;top:524px"></u><u class="n7" style="left:695px;top:524px"></u><u class="n1" style="left:689px;top:524px"></u><u class="n5" style="left:207px;top:540px"></u><u class="n4" style="left:201px;top:540px"></u><u class="n3" style="left:272px;top:540px"></u><u class="n1" style="left:266px;top:540px"></u><u class="n2" style="left:337px;top:540px"></u><u class="n3" style="left:331px;top:540px"></u><u class="n2" style="left:395px;top:540px"></u><u class="n1" style="left:389px;top:540px"></u><u class="n5" style="left:460px;top:540px"></u><u class="n7" style="left:525px;top:540px"></u><u class="n3" style="left:579px;top:540px"></u><u class="n3" style="left:573px;top:540px"></u><u class="n8" style="left:644px;top:540px"></u><u class="n5" style="left:707px;top:540px"></u><u class="n2" style="left:701px;top:540px"></u><u class="n3" style="left:207px;top:557px"></u><u class="n7" style="left:201px;top:557px"></u><u class="n1" style="left:195px;top:557px"></u><u class="n4" style="left:189px;top:557px"></u><u class="n3" style="left:272px;top:557px"></u><u class="n0" style="left:266px;top:557px"></u><u class="n5" style="left:260px;top:557px"></u><u class="n2" style="left:254px;top:557px"></u><u class="n0" style="left:337px;top:557px"></u><u class="n7" style="left:331px;top:557px"></u><u class="n6" style="left:325px;top:557px"></u><u class="n1" style="left:319px;top:557px"></u><u class="n3" style="left:395px;top:557px"></u><u class="n3" style="left:389px;top:557px"></u><u class="n4" style="left:383px;top:557px"></u><u class="n1" style="left:377px;top:557px"></u><u class="n1" style="left:460px;top:557px"></u><u class="n9" style="left:454px;top:557px"></u><u class="n7" style="left:448px;top:557px"></u><u class="n2" style="left:525px;top:557px"></u><u class="n4" style="left:519px;top:557px"></u><u class="n6" style="left:513px;top:557px"></u><u class="n0" style="left:579px;top:557px"></u><u class="n4" style="left:573px;top:557px"></u><u class="n7" style="left:567px;top:557px"></u><u class="n2" style="left:561px;top:557px"></u><u class="n2" style="left:644px;top:557px"></u><u class="n1" style="left:638px;top:557px"></u><u class="n7" style="left:632px;top:557px"></u><u class="n1" style="left:626px;top:557px"></u><u class="n8" style="left:707px;top:557px"></u><u class="n2" style="left:701px;top:557px"></u><u class="n0" style="left:695px;top:557px"></u><u class="n1" style="left:689px;top:557px"></u><u class="n1" style="left:207px;top:573px"></u><u class="n3" style="left:201px;top:573px"></u><u class="n7" style="left:195px;top:573px"></u><u class="n1" style="left:189px;top:573px"></u><u class="n7" style="left:272px;top:573px"></u><u class="n5" style="left:266px;top:573px"></u><u class="n0" style="left:260px;top:573px"></u><u class="n1" style="left:254px;top:573px"></u><u class="n4" style="left:337px;top:573px"></u><u class="n7" style="left:331px;top:573px"></u><u class="n6" style="left:325px;top:573px"></u><u class="n5" style="left:395px;top:573px"></u><u class="n0" style="left:389px;top:573px"></u><u class="n8" style="left:383px;top:573px"></u><u class="n4" style="left:460px;top:573px"></u><u class="n6" style="left:454px;top:573px"></u><u class="n4" style="left:448px;top:573px"></u><u class="n1" style="left:525px;top:573px"></u><u class="n4" style="left:519px;top:573px"></u><u class="n3" style="left:513px;top:573px"></u><u class="n6" style="left:579px;top:573px"></u><u class="n2" style="left:573px;top:573px"></u><u class="n9" style="left:567px;top:573px"></u><u class="n3" style="left:644px;top:573px"></u><u class="n9" style="left:638px;top:573px"></u><u class="n5" style="left:632px;top:573px"></u><u class="n3" style="left:707px;top:573px"></u><u class="n3" style="left:701px;top:573px"></u><u class="n3" style="left:695px;top:573px"></u><u class="n6" style="left:207px;top:590px"></u><u class="n7" style="left:201px;top:590px"></u><u class="n6" style="left:195px;top:590px"></u><u class="n3" style="left:272px;top:590px"></u><u class="n9" style="left:266px;top:590px"></u><u class="n3" style="left:260px;top:590px"></u><u class="n3" style="left:337px;top:590px"></u><u class="n8" style="left:331px;top:590px"></u><u class="n2" style="left:325px;top:590px"></u><u class="n6" style="left:395px;top:590px"></u><u class="n9" style="left:389px;top:590px"></u><u class="n4" style="left:383px;top:590px"></u><u class="n3" style="left:460px;top:590px"></u><u class="n9" style="left:454px;top:590px"></u><u class="n2" style="left:448px;top:590px"></u><u class="n3" style="left:525px;top:590px"></u><u class="n0" style="left:519px;top:590px"></u><u class="n2" style="left:513px;top:590px"></u><u class="n0" style="left:579px;top:590px"></u><u class="n8" style="left:573px;top:590px"></u><u class="n1" style="left:567px;top:590px"></u><u class="n0" style="left:644px;top:590px"></u><u class="n0" style="left:638px;top:590px"></u><u class="n1" style="left:632px;top:590px"></u><u class="n0" style="left:707px;top:590px"></u><u class="n8" style="left:701px;top:590px"></u><u class="n3" style="left:207px;top:607px"></u><u class="n1" style="left:201px;top:607px"></u><u class="n2" style="left:195px;top:607px"></u><u class="n2" style="left:272px;top:607px"></u><u class="n9" style="left:266px;top:607px"></u><u class="n1" style="left:337px;top:607px"></u><u class="n2" style="left:331px;top:607px"></u><u class="n1" style="left:325px;top:607px"></u><u class="n4" style="left:395px;top:607px"></u><u class="n0" style="left:389px;top:607px"></u><u class="n1" style="left:383px;top:607px"></u><u class="n2" style="left:460px;top:607px"></u><u class="n4" style="left:454px;top:607px"></u><u class="n2" style="left:525px;top:607px"></u><u class="n6" style="left:519px;top:607px"></u><u class="n9" style="left:579px;top:607px"></u><u class="n0" style="left:573px;top:607px"></u><u class="n1" style="left:567px;top:607px"></u><u class="n0" style="left:644px;top:607px"></u><u class="n5" style="left:638px;top:607px"></u><u class="n9" style="left:707px;top:607px"></u><u class="n5" style="left:701px;top:607px"></u><u class="n2" style="left:203px;top:640px"></u><u class="k" style="left:200px;top:640px"></u><u class="n4" style="left:194px;top:640px"></u><u class="n4" style="left:268px;top:640px"></u><u class="k" style="left:265px;top:640px"></u><u class="n5" style="left:259px;top:640px"></u><u class="n2" style="left:333px;top:640px"></u><u class="k" style="left:330px;top:640px"></u><u class="n3" style="left:324px;top:640px"></u><u class="n7" style="left:391px;top:640px"></u><u class="k" style="left:388px;top:640px"></u><u class="n5" style="left:382px;top:640px"></u><u class="n0" style="left:456px;top:640px"></u><u class="k" style="left:453px;top:640px"></u><u class="n7" style="left:447px;top:640px"></u><u class="n6" style="left:521px;top:640px"></u><u class="k" style="left:518px;top:640px"></u><u class="n4" style="left:512px;top:640px"></u><u class="n4" style="left:575px;top:640px"></u><u class="k" style="left:572px;top:640px"></u><u class="n3" style="left:566px;top:640px"></u><u class="n5" style="left:640px;top:640px"></u><u class="k" style="left:637px;top:640px"></u><u class="n4" style="left:631px;top:640px"></u><u class="n4" style="left:703px;top:640px"></u><u class="k" style="left:700px;top:640px"></u><u class="n2" style="left:694px;top:640px"></u><u class="f0" style="left:3px;top:673px"></u><u class="f1" style="left:9px;top:673px"></u><u class="f2" style="left:16px;top:673px"></u><u class="f3" style="left:22px;top:673px"></u><u class="f4" style="left:28px;top:673px"></u><u class="f2" style="left:34px;top:673px"></u><u class="f5" style="left:40px;top:673px"></u><u class="f6" style="left:46px;top:673px"></u><u class="f3" style="left:49px;top:673px"></u><u class="f2" style="left:56px;top:673px"></u><u class="f6" style="left:62px;top:673px"></u><u class="f7" style="left:67px;top:673px"></u><u class="f8" style="left:74px;top:673px"></u><u class="f2" style="left:81px;top:673px"></u><u class="f3" style="left:87px;top:673px"></u><u class="f9" style="left:94px;top:673px"></u><u class="f10" style="left:100px;top:673px"></u><u class="f9" style="left:107px;top:673px"></u><u class="f3" style="left:116px;top:673px"></u><u class="f11" style="left:122px;top:673px"></u><u class="f8" style="left:128px;top:673px"></u><u class="f6" style="left:135px;top:673px"></u><u class="f10" style="left:138px;top:673px"></u><u class="f3" style="left:145px;top:673px"></u><u class="f11" style="left:151px;top:673px"></u><u class="f12" style="left:157px;top:673px"></u><u class="f2" style="left:163px;top:673px"></u><u class="f9" style="left:169px;top:673px"></u><u class="f13" style="left:178px;top:673px"></u><u class="f2" style="left:185px;top:673px"></u><u class="f14" style="left:193px;top:673px"></u><u class="f15" style="left:198px;top:673px"></u><u class="f15" style="left:203px;top:673px"></u><u class="f16" style="left:208px;top:673px"></u><u class="f17" style="left:214px;top:673px"></u></div>
<div class="line"></div>
</body></html>
